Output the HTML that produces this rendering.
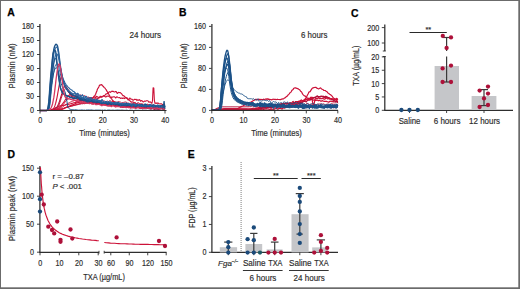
<!DOCTYPE html>
<html><head><meta charset="utf-8"><style>
html,body{margin:0;padding:0;background:#fff;}
body{width:520px;height:289px;overflow:hidden;}
svg{display:block;font-family:"Liberation Sans", sans-serif;}
</style></head><body>
<svg width="520" height="289" viewBox="0 0 520 289">
<rect x="0" y="0" width="520" height="289" fill="#fff"/>
<path d="M40.0,110.5 40.6,110.5 41.2,110.5 41.9,110.5 42.5,110.5 43.1,110.5 43.8,110.5 44.4,110.5 45.0,110.5 45.6,110.5 46.2,110.5 46.9,110.5 47.5,110.5 48.1,110.5 48.8,110.5 49.4,110.5 50.0,110.5 50.6,110.5 51.2,110.4 51.9,110.4 52.5,110.3 53.1,110.3 53.8,110.2 54.4,110.1 55.0,110.0 55.6,109.9 56.2,109.8 56.9,109.6 57.5,109.5 58.1,109.3 58.8,109.0 59.4,108.8 60.0,108.5 60.6,108.2 61.2,107.9 61.9,107.5 62.5,107.1 63.1,106.6 63.8,106.1 64.4,105.6 65.0,105.1 65.6,104.7 66.2,104.4 66.9,104.0 67.5,103.7 68.1,103.3 68.8,103.0 69.4,102.7 70.0,102.3 70.6,102.0 71.2,101.8 71.9,101.5 72.5,101.2 73.1,101.0 73.8,100.8 74.4,100.6 75.0,100.5 75.6,100.3 76.2,100.4 76.9,100.3 77.5,100.2 78.1,100.2 78.8,100.2 79.4,100.3 80.0,100.2 80.6,100.3 81.2,100.3 81.9,100.2 82.5,100.2 83.1,100.3 83.8,100.2 84.4,100.0 85.0,100.2 85.6,100.2 86.2,100.0 86.9,99.8 87.5,100.3 88.1,100.5 88.8,100.1 89.4,100.3 90.0,100.6 90.6,100.4 91.2,100.5 91.9,100.6 92.5,100.0 93.1,100.6 93.8,101.0 94.4,101.0 95.0,100.9 95.6,100.1 96.2,99.6 96.9,100.6 97.5,101.3 98.1,100.7 98.8,100.1 99.4,100.2 100.0,100.9 100.6,101.0 101.2,100.8 101.9,101.0 102.5,101.2 103.1,101.1 103.8,100.8 104.4,101.0 105.0,101.2 105.6,101.5 106.3,101.7 106.9,101.0 107.5,100.9 108.1,101.7 108.8,101.3 109.4,100.8 110.0,100.7 110.6,100.8 111.2,101.6 111.9,102.1 112.5,101.6 113.1,100.5 113.8,101.2 114.4,102.1 115.0,101.8 115.6,101.9 116.2,102.2 116.9,102.1 117.5,102.0 118.1,101.6 118.8,101.7 119.4,101.8 120.0,102.0 120.6,102.2 121.2,102.7 121.9,103.3 122.5,102.5 123.1,102.3 123.8,102.5 124.4,102.2 125.0,102.0 125.6,102.0 126.2,102.2 126.9,102.5 127.5,103.0 128.1,103.2 128.8,103.2 129.4,103.4 130.0,103.5 130.6,103.2 131.2,103.1 131.9,103.2 132.5,103.9 133.1,103.8 133.8,103.3 134.4,103.0 135.0,103.0 135.6,103.5 136.2,104.0 136.9,103.3 137.5,102.9 138.1,103.0 138.8,102.7 139.4,103.5 140.0,104.0 140.6,103.7 141.2,103.7 141.9,103.8 142.5,103.9 143.1,104.1 143.8,104.6 144.4,104.8 145.0,104.6 145.6,104.6 146.2,104.6 146.9,104.5 147.5,104.2 148.1,104.4 148.8,104.6 149.4,104.7 150.0,105.0 150.6,105.1 151.2,105.2 151.9,105.1 152.5,105.0 153.1,105.0 153.8,105.4 154.4,105.4 155.0,105.3 155.6,105.8 156.2,105.7 156.9,105.7 157.5,105.6 158.1,105.7 158.8,106.1 159.4,106.2 160.0,105.6 160.6,105.4 161.2,106.2 161.9,106.3 162.5,106.4 163.1,106.0 163.8,106.0 164.4,106.4 165.0,105.9" fill="none" stroke="#cc1238" stroke-width="1.0" stroke-linejoin="round" />
<path d="M40.0,110.5 40.6,110.5 41.2,110.5 41.9,110.5 42.5,110.5 43.1,110.5 43.8,110.5 44.4,110.5 45.0,110.5 45.6,110.5 46.2,110.5 46.9,110.5 47.5,110.5 48.1,110.5 48.8,110.5 49.4,110.5 50.0,110.5 50.6,110.5 51.2,110.4 51.9,110.4 52.5,110.4 53.1,110.3 53.8,110.3 54.4,110.2 55.0,110.2 55.6,110.1 56.2,110.0 56.9,109.9 57.5,109.8 58.1,109.7 58.8,109.6 59.4,109.5 60.0,109.4 60.6,109.2 61.2,109.1 61.9,108.9 62.5,108.7 63.1,108.5 63.8,108.3 64.4,108.1 65.0,107.9 65.6,107.6 66.2,107.5 66.9,107.3 67.5,107.2 68.1,107.0 68.8,106.9 69.4,106.7 70.0,106.6 70.6,106.4 71.2,106.2 71.9,106.1 72.5,105.9 73.1,105.8 73.8,105.5 74.4,105.3 75.0,105.3 75.6,105.1 76.2,104.9 76.9,104.7 77.5,104.7 78.1,104.5 78.8,104.4 79.4,104.3 80.0,104.1 80.6,104.1 81.2,103.9 81.9,103.6 82.5,103.8 83.1,103.7 83.8,103.5 84.4,103.7 85.0,103.7 85.6,103.3 86.2,103.0 86.9,103.0 87.5,103.1 88.1,103.0 88.8,103.0 89.4,102.8 90.0,102.8 90.6,102.9 91.2,102.8 91.9,103.2 92.5,103.5 93.1,102.8 93.8,102.6 94.4,103.0 95.0,103.0 95.6,103.1 96.2,103.1 96.9,103.2 97.5,103.2 98.1,103.5 98.8,103.2 99.4,102.9 100.0,103.7 100.6,103.7 101.2,103.3 101.9,103.3 102.5,103.5 103.1,103.4 103.8,102.1 104.4,102.6 105.0,103.5 105.6,103.3 106.3,103.4 106.9,103.8 107.5,104.2 108.1,103.6 108.8,103.3 109.4,103.0 110.0,103.2 110.6,103.6 111.2,102.7 111.9,103.0 112.5,104.1 113.1,103.9 113.8,103.7 114.4,103.5 115.0,103.4 115.6,103.9 116.2,103.9 116.9,103.0 117.5,102.7 118.1,104.3 118.8,104.7 119.4,104.2 120.0,104.1 120.6,103.9 121.2,103.6 121.9,103.3 122.5,103.6 123.1,103.9 123.8,104.2 124.4,104.2 125.0,103.8 125.6,103.8 126.2,104.3 126.9,104.2 127.5,104.1 128.1,104.5 128.8,104.8 129.4,105.0 130.0,105.0 130.6,105.6 131.2,105.2 131.9,104.3 132.5,104.7 133.1,104.6 133.8,104.5 134.4,104.7 135.0,105.6 135.6,105.8 136.2,105.0 136.9,104.5 137.5,104.2 138.1,104.3 138.8,105.2 139.4,106.3 140.0,105.8 140.6,105.3 141.2,105.2 141.9,105.3 142.5,105.6 143.1,106.0 143.8,106.0 144.4,105.7 145.0,105.8 145.6,105.6 146.2,105.8 146.9,105.9 147.5,105.9 148.1,105.8 148.8,105.7 149.4,106.1 150.0,106.5 150.6,105.9 151.2,105.8 151.9,106.1 152.5,106.0 153.1,106.5 153.8,106.8 154.4,106.7 155.0,106.5 155.6,106.4 156.2,106.8 156.9,107.2 157.5,106.9 158.1,106.4 158.8,107.1 159.4,107.4 160.0,107.0 160.6,107.0 161.2,107.1 161.9,107.1 162.5,106.6 163.1,106.6 163.8,107.0 164.4,107.0 165.0,107.4" fill="none" stroke="#ad1039" stroke-width="1.0" stroke-linejoin="round" />
<path d="M40.0,110.5 40.6,110.5 41.2,110.5 41.9,110.5 42.5,110.5 43.1,110.5 43.8,110.5 44.4,110.5 45.0,110.5 45.6,110.5 46.2,110.5 46.9,110.5 47.5,110.5 48.1,110.5 48.8,110.5 49.4,110.5 50.0,110.5 50.6,110.5 51.2,110.4 51.9,110.4 52.5,110.3 53.1,110.3 53.8,110.2 54.4,110.1 55.0,110.0 55.6,109.8 56.2,109.6 56.9,109.5 57.5,109.2 58.1,109.0 58.8,108.7 59.4,108.3 60.0,107.8 60.6,107.3 61.2,106.7 61.9,106.0 62.5,105.4 63.1,104.6 63.8,103.8 64.4,103.0 65.0,102.1 65.6,101.2 66.2,100.6 66.9,100.1 67.5,99.5 68.1,99.0 68.8,98.5 69.4,98.0 70.0,97.5 70.6,97.1 71.2,96.7 71.9,96.4 72.5,96.0 73.1,95.8 73.8,95.6 74.4,95.4 75.0,95.3 75.6,95.2 76.2,95.0 76.9,94.8 77.5,94.5 78.1,94.8 78.8,94.9 79.4,95.3 80.0,95.3 80.6,95.0 81.2,95.2 81.9,95.5 82.5,95.4 83.1,95.9 83.8,96.0 84.4,95.7 85.0,96.0 85.6,96.4 86.2,96.4 86.9,96.9 87.5,97.2 88.1,96.9 88.8,97.3 89.4,97.5 90.0,97.6 90.6,98.4 91.2,98.6 91.9,98.6 92.5,98.7 93.1,98.9 93.8,99.0 94.4,99.1 95.0,99.5 95.6,99.7 96.2,100.1 96.9,99.8 97.5,99.9 98.1,100.5 98.8,101.1 99.4,100.9 100.0,100.6 100.6,101.2 101.2,101.6 101.9,102.0 102.5,102.5 103.1,102.7 103.8,102.5 104.4,102.4 105.0,102.9 105.6,102.9 106.3,102.7 106.9,103.0 107.5,103.1 108.1,103.4 108.8,103.9 109.4,103.9 110.0,104.0 110.6,104.1 111.2,104.6 111.9,104.6 112.5,104.6 113.1,105.2 113.8,105.5 114.4,105.4 115.0,104.8 115.6,104.8 116.2,105.0 116.9,105.9 117.5,106.4 118.1,106.2 118.8,106.4 119.4,106.1 120.0,105.8 120.6,106.3 121.2,106.3 121.9,106.6 122.5,107.1 123.1,107.2 123.8,106.8 124.4,106.6 125.0,106.6 125.6,106.5 126.2,107.1 126.9,107.6 127.5,107.3 128.1,107.5 128.8,107.8 129.4,107.2 130.0,106.8 130.6,106.8 131.2,107.1 131.9,107.6 132.5,107.3 133.1,107.4 133.8,107.6 134.4,107.2 135.0,107.4 135.6,108.0 136.2,108.0 136.9,107.7 137.5,107.5 138.1,107.7 138.8,107.7 139.4,108.2 140.0,108.7 140.6,108.2 141.2,108.2 141.9,108.7 142.5,108.8 143.1,108.7 143.8,108.4 144.4,108.5 145.0,108.4 145.6,107.6 146.2,107.8 146.9,107.9 147.5,107.8 148.1,108.5 148.8,108.7 149.4,108.6 150.0,108.4 150.6,108.4 151.2,108.3 151.9,107.8 152.5,108.8 153.1,108.7 153.8,107.8 154.4,108.2 155.0,108.4 155.6,108.7 156.2,108.9 156.9,108.9 157.5,108.8 158.1,108.9 158.8,109.8 159.4,109.2 160.0,107.8 160.6,108.1 161.2,108.5 161.9,108.3 162.5,108.7 163.1,108.5 163.8,108.0 164.4,108.5 165.0,108.9" fill="none" stroke="#cc1238" stroke-width="1.0" stroke-linejoin="round" />
<path d="M40.0,110.5 40.6,110.5 41.2,110.5 41.9,110.5 42.5,110.5 43.1,110.5 43.8,110.5 44.4,110.5 45.0,110.5 45.6,110.5 46.2,110.5 46.9,110.5 47.5,110.5 48.1,110.5 48.8,110.5 49.4,110.5 50.0,110.5 50.6,110.5 51.2,110.5 51.9,110.4 52.5,110.4 53.1,110.3 53.8,110.2 54.4,110.1 55.0,109.9 55.6,109.6 56.2,109.2 56.9,108.7 57.5,107.9 58.1,106.9 58.8,105.7 59.4,104.1 60.0,102.3 60.6,100.3 61.2,98.2 61.9,96.1 62.5,94.1 63.1,92.4 63.8,91.0 64.4,90.0 65.0,89.2 65.6,88.6 66.2,89.1 66.9,89.7 67.5,90.5 68.1,91.3 68.8,92.3 69.4,93.2 70.0,94.2 70.6,95.2 71.2,96.2 71.9,97.1 72.5,97.9 73.1,98.8 73.8,99.4 74.4,99.9 75.0,100.5 75.6,100.9 76.2,101.4 76.9,101.7 77.5,101.8 78.1,102.2 78.8,102.6 79.4,102.6 80.0,102.7 80.6,102.8 81.2,102.9 81.9,103.0 82.5,102.9 83.1,103.1 83.8,103.2 84.4,103.2 85.0,103.3 85.6,103.5 86.2,103.2 86.9,103.1 87.5,103.3 88.1,103.1 88.8,102.9 89.4,103.5 90.0,103.2 90.6,102.6 91.2,102.9 91.9,103.6 92.5,103.5 93.1,103.5 93.8,103.6 94.4,103.1 95.0,102.9 95.6,103.3 96.2,103.3 96.9,103.4 97.5,103.3 98.1,103.1 98.8,103.5 99.4,103.7 100.0,103.0 100.6,102.9 101.2,103.7 101.9,103.3 102.5,103.2 103.1,104.2 103.8,104.0 104.4,104.0 105.0,104.4 105.6,104.1 106.3,104.0 106.9,104.3 107.5,104.5 108.1,104.5 108.8,104.1 109.4,104.1 110.0,104.7 110.6,103.9 111.2,104.0 111.9,104.2 112.5,103.7 113.1,104.2 113.8,105.0 114.4,104.9 115.0,104.4 115.6,104.3 116.2,104.5 116.9,104.5 117.5,104.2 118.1,104.8 118.8,104.9 119.4,104.6 120.0,105.2 120.6,105.4 121.2,104.8 121.9,104.4 122.5,105.5 123.1,105.8 123.8,105.4 124.4,105.5 125.0,105.7 125.6,106.1 126.2,105.8 126.9,105.7 127.5,106.1 128.1,106.0 128.8,106.2 129.4,105.9 130.0,105.6 130.6,106.1 131.2,106.5 131.9,106.5 132.5,106.0 133.1,105.9 133.8,106.1 134.4,106.3 135.0,106.5 135.6,106.4 136.2,106.9 136.9,106.6 137.5,106.3 138.1,107.0 138.8,106.5 139.4,106.3 140.0,106.7 140.6,107.0 141.2,107.5 141.9,107.3 142.5,106.6 143.1,106.9 143.8,106.9 144.4,107.1 145.0,107.7 145.6,107.3 146.2,107.1 146.9,107.1 147.5,107.4 148.1,107.9 148.8,108.3 149.4,108.4 150.0,108.2 150.6,108.3 151.2,108.0 151.9,107.8 152.5,108.5 153.1,107.7 153.8,107.4 154.4,108.5 155.0,107.9 155.6,107.3 156.2,108.0 156.9,108.8 157.5,108.8 158.1,108.1 158.8,108.0 159.4,108.5 160.0,108.5 160.6,108.0 161.2,108.4 161.9,108.9 162.5,108.9 163.1,108.3 163.8,107.4 164.4,107.8 165.0,108.4" fill="none" stroke="#cc1238" stroke-width="1.0" stroke-linejoin="round" />
<path d="M40.0,110.5 40.6,110.5 41.2,110.5 41.9,110.5 42.5,110.5 43.1,110.5 43.8,110.5 44.4,110.5 45.0,110.5 45.6,110.5 46.2,110.5 46.9,110.5 47.5,110.5 48.1,110.5 48.8,110.5 49.4,110.5 50.0,110.5 50.6,110.5 51.2,110.5 51.9,110.5 52.5,110.5 53.1,110.5 53.8,110.5 54.4,110.5 55.0,110.5 55.6,110.5 56.2,110.5 56.9,110.5 57.5,110.5 58.1,110.5 58.8,110.5 59.4,110.3 60.0,110.2 60.6,110.0 61.2,109.8 61.9,109.5 62.5,109.3 63.1,109.0 63.8,108.7 64.4,108.4 65.0,108.0 65.6,107.7 66.2,107.4 66.9,107.2 67.5,106.9 68.1,106.6 68.8,106.4 69.4,106.1 70.0,105.9 70.6,105.6 71.2,105.4 71.9,105.1 72.5,104.9 73.1,104.6 73.8,104.3 74.4,104.1 75.0,103.8 75.6,103.5 76.2,103.2 76.9,103.0 77.5,102.8 78.1,102.5 78.8,102.2 79.4,102.0 80.0,101.8 80.6,101.5 81.2,101.2 81.9,101.0 82.5,100.6 83.1,100.3 83.8,100.3 84.4,100.2 85.0,100.1 85.6,100.1 86.2,100.1 86.9,100.0 87.5,100.2 88.1,100.2 88.8,100.1 89.4,99.9 90.0,99.7 90.6,99.8 91.2,99.4 91.9,98.6 92.5,98.0 93.1,97.6 93.8,96.7 94.4,96.0 95.0,95.6 95.6,94.3 96.2,92.6 96.9,90.9 97.5,89.0 98.1,88.2 98.8,87.0 99.4,85.4 100.0,85.1 100.6,85.0 101.2,84.6 101.9,84.8 102.5,85.8 103.1,86.2 103.8,87.0 104.4,87.6 105.0,88.1 105.6,89.0 106.3,89.9 106.9,91.2 107.5,92.0 108.1,93.0 108.8,94.2 109.4,95.4 110.0,96.5 110.6,97.3 111.2,98.3 111.9,99.2 112.5,100.5 113.1,101.3 113.8,101.5 114.4,101.8 115.0,102.7 115.6,103.8 116.2,104.2 116.9,104.2 117.5,104.5 118.1,104.9 118.8,104.9 119.4,104.8 120.0,105.0 120.6,105.6 121.2,105.9 121.9,105.9 122.5,106.3 123.1,106.2 123.8,106.0 124.4,106.4 125.0,106.2 125.6,106.0 126.2,106.2 126.9,106.2 127.5,106.3 128.1,106.9 128.8,107.2 129.4,106.8 130.0,106.9 130.6,107.2 131.2,107.0 131.9,106.7 132.5,106.6 133.1,106.8 133.8,107.1 134.4,107.2 135.0,107.1 135.6,107.4 136.2,107.3 136.9,107.2 137.5,107.7 138.1,107.5 138.8,107.5 139.4,107.7 140.0,108.0 140.6,108.2 141.2,108.1 141.9,108.3 142.5,108.6 143.1,108.0 143.8,107.6 144.4,108.1 145.0,107.8 145.6,108.0 146.2,108.1 146.9,108.4 147.5,108.5 148.1,108.4 148.8,108.3 149.4,108.2 150.0,108.7 150.6,109.1 151.2,109.1 151.9,108.6 152.5,108.3 153.1,108.4 153.8,109.0 154.4,109.6 155.0,109.4 155.6,108.9 156.2,108.9 156.9,108.8 157.5,108.8 158.1,109.1 158.8,109.3 159.4,109.0 160.0,108.9 160.6,108.9 161.2,108.5 161.9,108.6 162.5,109.0 163.1,109.2 163.8,109.3 164.4,109.1 165.0,108.9" fill="none" stroke="#cc1238" stroke-width="1.2" stroke-linejoin="round" />
<path d="M40.0,110.5 40.6,110.5 41.2,110.5 41.9,110.5 42.5,110.5 43.1,110.5 43.8,110.5 44.4,110.5 45.0,110.5 45.6,110.5 46.2,110.5 46.9,110.5 47.5,110.5 48.1,110.5 48.8,110.5 49.4,110.5 50.0,110.5 50.6,110.5 51.2,110.5 51.9,110.5 52.5,110.5 53.1,110.5 53.8,110.4 54.4,110.4 55.0,110.3 55.6,110.2 56.2,110.2 56.9,110.1 57.5,110.0 58.1,109.8 58.8,109.7 59.4,109.6 60.0,109.4 60.6,109.3 61.2,109.1 61.9,108.9 62.5,108.7 63.1,108.5 63.8,108.3 64.4,108.1 65.0,107.8 65.6,107.5 66.2,107.4 66.9,107.2 67.5,107.0 68.1,106.9 68.8,106.7 69.4,106.5 70.0,106.4 70.6,106.2 71.2,106.0 71.9,105.8 72.5,105.7 73.1,105.5 73.8,105.3 74.4,105.2 75.0,105.1 75.6,104.8 76.2,104.7 76.9,104.6 77.5,104.3 78.1,104.1 78.8,103.9 79.4,103.7 80.0,103.4 80.6,103.3 81.2,102.9 81.9,102.9 82.5,103.1 83.1,102.8 83.8,102.8 84.4,102.5 85.0,102.0 85.6,102.0 86.2,102.2 86.9,101.8 87.5,101.3 88.1,100.9 88.8,100.6 89.4,100.8 90.0,100.9 90.6,100.7 91.2,100.4 91.9,100.6 92.5,100.4 93.1,99.8 93.8,99.6 94.4,99.5 95.0,98.7 95.6,98.0 96.2,98.0 96.9,98.2 97.5,98.7 98.1,98.4 98.8,97.8 99.4,97.6 100.0,97.5 100.6,96.9 101.2,96.4 101.9,96.7 102.5,96.6 103.1,96.2 103.8,95.7 104.4,95.4 105.0,95.2 105.6,94.2 106.3,93.8 106.9,93.9 107.5,93.6 108.1,92.9 108.8,92.2 109.4,91.8 110.0,91.8 110.6,92.3 111.2,91.7 111.9,91.1 112.5,91.4 113.1,91.3 113.8,91.8 114.4,92.0 115.0,91.7 115.6,91.4 116.2,91.6 116.9,93.1 117.5,93.4 118.1,92.6 118.8,92.4 119.4,92.6 120.0,92.6 120.6,92.8 121.2,93.5 121.9,94.1 122.5,95.3 123.1,95.8 123.8,95.6 124.4,96.5 125.0,97.0 125.6,97.2 126.2,97.9 126.9,98.5 127.5,98.9 128.1,99.3 128.8,99.7 129.4,100.0 130.0,100.9 130.6,101.5 131.2,101.8 131.9,102.2 132.5,101.9 133.1,102.0 133.8,102.5 134.4,102.8 135.0,102.5 135.6,103.1 136.2,103.5 136.9,103.8 137.5,104.4 138.1,104.1 138.8,104.4 139.4,104.5 140.0,104.2 140.6,104.7 141.2,105.1 141.9,105.0 142.5,105.6 143.1,105.7 143.8,105.4 144.4,105.0 145.0,105.1 145.6,105.1 146.2,105.1 146.9,105.0 147.5,104.8 148.1,105.3 148.8,105.3 149.4,105.2 150.0,105.0 150.6,104.8 151.2,105.4 151.9,106.4 152.5,107.1 153.1,106.9 153.8,105.9 154.4,105.7 155.0,105.9 155.6,106.2 156.2,106.4 156.9,106.5 157.5,106.2 158.1,106.7 158.8,106.6 159.4,106.5 160.0,106.8 160.6,106.6 161.2,106.7 161.9,106.9 162.5,107.1 163.1,106.9 163.8,106.9 164.4,106.1 165.0,105.9" fill="none" stroke="#cc1238" stroke-width="1.1" stroke-linejoin="round" />
<path d="M40.0,110.5 40.6,110.5 41.2,110.5 41.9,110.5 42.5,110.5 43.1,110.5 43.8,110.5 44.4,110.5 45.0,110.5 45.6,110.5 46.2,110.5 46.9,110.5 47.5,110.5 48.1,110.5 48.8,110.5 49.4,110.5 50.0,110.3 50.6,110.0 51.2,109.8 51.9,109.5 52.5,109.3 53.1,109.0 53.8,108.7 54.4,108.4 55.0,108.2 55.6,107.8 56.2,107.5 56.9,107.2 57.5,106.9 58.1,106.5 58.8,106.1 59.4,106.0 60.0,105.9 60.6,105.8 61.2,105.7 61.9,105.6 62.5,105.5 63.1,105.4 63.8,105.3 64.4,105.2 65.0,105.0 65.6,104.9 66.2,104.8 66.9,104.6 67.5,104.5 68.1,104.4 68.8,104.2 69.4,104.1 70.0,103.9 70.6,103.7 71.2,103.6 71.9,103.4 72.5,103.2 73.1,103.0 73.8,102.8 74.4,102.7 75.0,102.5 75.6,102.4 76.2,102.2 76.9,102.1 77.5,101.8 78.1,101.7 78.8,101.7 79.4,101.6 80.0,101.1 80.6,100.8 81.2,100.7 81.9,100.5 82.5,100.1 83.1,99.8 83.8,99.9 84.4,99.8 85.0,99.6 85.6,99.6 86.2,99.7 86.9,99.3 87.5,99.0 88.1,98.3 88.8,98.0 89.4,98.4 90.0,98.3 90.6,97.6 91.2,97.6 91.9,98.1 92.5,97.9 93.1,97.7 93.8,97.4 94.4,96.9 95.0,97.2 95.6,97.5 96.2,96.4 96.9,96.5 97.5,97.0 98.1,97.1 98.8,97.9 99.4,97.6 100.0,96.2 100.6,96.3 101.2,97.3 101.9,97.1 102.5,96.4 103.1,96.1 103.8,95.8 104.4,96.3 105.0,96.5 105.6,97.0 106.3,96.8 106.9,96.1 107.5,96.2 108.1,95.9 108.8,96.4 109.4,96.8 110.0,97.1 110.6,97.8 111.2,97.5 111.9,96.8 112.5,97.2 113.1,97.0 113.8,96.7 114.4,96.8 115.0,97.2 115.6,98.0 116.2,97.5 116.9,96.7 117.5,97.1 118.1,97.5 118.8,97.7 119.4,97.6 120.0,97.8 120.6,98.5 121.2,98.1 121.9,98.0 122.5,98.5 123.1,98.1 123.8,98.0 124.4,98.6 125.0,98.3 125.6,97.6 126.2,97.8 126.9,97.7 127.5,98.4 128.1,100.0 128.8,99.7 129.4,98.2 130.0,98.0 130.6,98.8 131.2,99.3 131.9,99.1 132.5,99.8 133.1,100.2 133.8,99.9 134.4,99.2 135.0,99.4 135.6,99.5 136.2,99.3 136.9,100.6 137.5,99.9 138.1,99.8 138.8,100.4 139.4,99.6 140.0,100.1 140.6,101.2 141.2,100.8 141.9,100.5 142.5,101.4 143.1,101.9 143.8,101.7 144.4,101.1 145.0,101.1 145.6,101.3 146.2,100.8 146.9,100.7 147.5,100.8 148.1,101.0 148.8,102.1 149.4,102.2 150.0,101.7 150.6,102.2 151.2,102.8 151.9,103.3 152.5,100.7 153.1,87.9 153.8,88.1 154.4,100.7 155.0,103.4 155.6,103.1 156.2,103.1 156.9,103.5 157.5,103.0 158.1,103.1 158.8,103.5 159.4,103.8 160.0,104.0 160.6,103.7 161.2,103.8 161.9,104.1 162.5,104.6 163.1,104.7 163.8,104.5 164.4,104.2 165.0,103.8" fill="none" stroke="#cc1238" stroke-width="1.1" stroke-linejoin="round" />
<path d="M40.0,110.5 40.6,110.5 41.2,110.5 41.9,110.5 42.5,110.5 43.1,110.5 43.8,110.5 44.4,110.5 45.0,110.5 45.6,110.5 46.2,110.5 46.9,110.5 47.5,110.5 48.1,110.5 48.8,110.5 49.4,110.4 50.0,110.4 50.6,110.3 51.2,110.1 51.9,109.9 52.5,109.5 53.1,108.9 53.8,108.1 54.4,107.0 55.0,105.4 55.6,103.5 56.2,101.0 56.9,98.1 57.5,94.8 58.1,91.3 58.8,87.6 59.4,84.1 60.0,81.0 60.6,78.6 61.2,77.0 61.9,76.4 62.5,78.6 63.1,80.5 63.8,82.3 64.4,83.9 65.0,85.4 65.6,86.7 66.2,88.0 66.9,89.1 67.5,90.2 68.1,91.2 68.8,92.1 69.4,92.9 70.0,93.6 70.6,94.3 71.2,95.0 71.9,95.6 72.5,96.1 73.1,96.6 73.8,97.1 74.4,97.6 75.0,98.0 75.6,98.3 76.2,98.6 76.9,98.9 77.5,99.4 78.1,99.6 78.8,99.8 79.4,100.1 80.0,100.5 80.6,100.7 81.2,100.8 81.9,101.0 82.5,100.8 83.1,101.0 83.8,101.6 84.4,102.1 85.0,102.2 85.6,102.1 86.2,102.0 86.9,102.2 87.5,102.4 88.1,102.4 88.8,102.4 89.4,102.3 90.0,102.6 90.6,103.0 91.2,103.6 91.9,104.1 92.5,103.9 93.1,104.0 93.8,103.8 94.4,103.3 95.0,103.6 95.6,104.1 96.2,104.2 96.9,104.1 97.5,104.2 98.1,104.2 98.8,104.1 99.4,104.2 100.0,104.1 100.6,104.3 101.2,104.5 101.9,104.1 102.5,104.2 103.1,104.6 103.8,104.6 104.4,105.1 105.0,105.3 105.6,105.5 106.3,105.4 106.9,105.4 107.5,105.6 108.1,105.1 108.8,105.1 109.4,105.2 110.0,105.1 110.6,105.2 111.2,105.6 111.9,105.8 112.5,104.9 113.1,104.8 113.8,105.3 114.4,105.5 115.0,105.6 115.6,106.1 116.2,106.7 116.9,106.2 117.5,105.8 118.1,106.1 118.8,106.4 119.4,106.5 120.0,106.5 120.6,106.8 121.2,107.2 121.9,107.0 122.5,107.1 123.1,107.4 123.8,107.1 124.4,107.2 125.0,107.0 125.6,106.8 126.2,106.9 126.9,107.2 127.5,107.4 128.1,107.0 128.8,106.7 129.4,107.0 130.0,107.1 130.6,106.9 131.2,107.0 131.9,106.6 132.5,106.8 133.1,107.2 133.8,107.0 134.4,107.2 135.0,107.7 135.6,107.5 136.2,107.1 136.9,107.3 137.5,107.4 138.1,107.5 138.8,107.8 139.4,107.7 140.0,108.0 140.6,108.1 141.2,108.1 141.9,108.2 142.5,107.6 143.1,107.6 143.8,108.0 144.4,107.7 145.0,107.7 145.6,108.0 146.2,108.1 146.9,107.5 147.5,107.2 148.1,107.6 148.8,108.1 149.4,108.1 150.0,108.2 150.6,108.3 151.2,108.2 151.9,107.8 152.5,108.0 153.1,108.2 153.8,107.5 154.4,108.4 155.0,108.8 155.6,107.8 156.2,107.4 156.9,108.4 157.5,108.9 158.1,108.8 158.8,108.9 159.4,108.8 160.0,108.0 160.6,107.7 161.2,108.4 161.9,108.5 162.5,108.3 163.1,108.0 163.8,108.5 164.4,108.3 165.0,108.3" fill="none" stroke="#cc1238" stroke-width="1.1" stroke-linejoin="round" />
<path d="M40.0,110.5 40.6,110.5 41.2,110.5 41.9,110.5 42.5,110.5 43.1,110.5 43.8,110.5 44.4,110.5 45.0,110.5 45.6,110.5 46.2,110.5 46.9,110.5 47.5,110.5 48.1,110.5 48.8,110.5 49.4,110.5 50.0,110.5 50.6,110.4 51.2,110.4 51.9,110.3 52.5,110.2 53.1,110.1 53.8,109.8 54.4,109.5 55.0,109.2 55.6,108.6 56.2,107.9 56.9,107.1 57.5,106.0 58.1,104.8 58.8,103.3 59.4,101.6 60.0,99.7 60.6,97.7 61.2,95.6 61.9,93.5 62.5,91.4 63.1,89.6 63.8,88.0 64.4,86.8 65.0,86.1 65.6,85.8 66.2,86.9 66.9,87.9 67.5,88.8 68.1,89.7 68.8,90.5 69.4,91.3 70.0,91.9 70.6,92.6 71.2,93.3 71.9,93.9 72.5,94.4 73.1,95.0 73.8,95.4 74.4,95.9 75.0,96.5 75.6,96.8 76.2,97.1 76.9,97.5 77.5,97.8 78.1,98.3 78.8,98.7 79.4,98.7 80.0,98.9 80.6,99.4 81.2,99.7 81.9,100.0 82.5,100.0 83.1,100.2 83.8,100.4 84.4,100.6 85.0,100.9 85.6,100.9 86.2,100.9 86.9,101.1 87.5,101.0 88.1,101.0 88.8,101.5 89.4,101.8 90.0,101.7 90.6,102.0 91.2,102.7 91.9,102.8 92.5,102.4 93.1,102.5 93.8,102.5 94.4,102.2 95.0,103.1 95.6,103.3 96.2,102.4 96.9,102.7 97.5,103.7 98.1,103.4 98.8,102.7 99.4,102.6 100.0,103.2 100.6,103.5 101.2,103.4 101.9,103.2 102.5,102.7 103.1,103.2 103.8,103.5 104.4,103.6 105.0,103.9 105.6,104.2 106.3,104.6 106.9,104.3 107.5,104.4 108.1,104.3 108.8,104.3 109.4,104.6 110.0,104.5 110.6,104.7 111.2,104.7 111.9,104.3 112.5,103.4 113.1,104.2 113.8,105.1 114.4,104.8 115.0,105.3 115.6,105.2 116.2,105.2 116.9,105.4 117.5,104.8 118.1,105.4 118.8,105.8 119.4,105.1 120.0,105.5 120.6,105.5 121.2,105.2 121.9,105.5 122.5,105.3 123.1,105.6 123.8,105.8 124.4,105.5 125.0,106.1 125.6,106.1 126.2,106.0 126.9,105.7 127.5,106.1 128.1,106.4 128.8,106.2 129.4,105.7 130.0,105.9 130.6,106.1 131.2,106.3 131.9,106.6 132.5,106.1 133.1,106.2 133.8,106.4 134.4,107.1 135.0,107.4 135.6,106.5 136.2,106.0 136.9,106.7 137.5,106.5 138.1,106.5 138.8,107.0 139.4,107.2 140.0,106.6 140.6,105.7 141.2,106.4 141.9,106.9 142.5,106.4 143.1,105.9 143.8,106.9 144.4,107.5 145.0,106.7 145.6,107.2 146.2,107.3 146.9,106.8 147.5,106.7 148.1,107.0 148.8,107.1 149.4,107.2 150.0,107.1 150.6,106.9 151.2,107.2 151.9,107.8 152.5,107.2 153.1,106.4 153.8,106.7 154.4,107.2 155.0,107.6 155.6,107.0 156.2,106.7 156.9,107.4 157.5,107.7 158.1,107.4 158.8,107.5 159.4,107.9 160.0,107.4 160.6,107.0 161.2,107.5 161.9,108.1 162.5,108.3 163.1,107.8 163.8,107.4 164.4,107.5 165.0,107.5" fill="none" stroke="#ad1039" stroke-width="1.1" stroke-linejoin="round" />
<path d="M40.0,110.5 40.6,110.5 41.2,110.5 41.9,110.5 42.5,110.5 43.1,110.5 43.8,110.5 44.4,110.5 45.0,110.5 45.6,110.5 46.2,110.5 46.9,110.5 47.5,110.5 48.1,110.5 48.8,110.5 49.4,110.4 50.0,110.4 50.6,110.4 51.2,110.3 51.9,110.3 52.5,110.2 53.1,110.1 53.8,110.0 54.4,109.9 55.0,109.7 55.6,109.5 56.2,109.3 56.9,109.0 57.5,108.7 58.1,108.3 58.8,107.8 59.4,107.3 60.0,106.7 60.6,106.1 61.2,105.4 61.9,104.7 62.5,103.9 63.1,103.0 63.8,102.1 64.4,101.2 65.0,100.3 65.6,99.4 66.2,98.6 66.9,97.7 67.5,96.9 68.1,96.1 68.8,95.5 69.4,95.0 70.0,94.6 70.6,94.3 71.2,94.2 71.9,94.6 72.5,95.0 73.1,95.3 73.8,95.7 74.4,96.0 75.0,96.3 75.6,96.5 76.2,96.8 76.9,97.1 77.5,97.4 78.1,97.8 78.8,98.1 79.4,98.3 80.0,98.5 80.6,98.9 81.2,99.1 81.9,99.3 82.5,99.4 83.1,99.5 83.8,99.9 84.4,100.3 85.0,100.2 85.6,100.2 86.2,100.4 86.9,100.1 87.5,100.0 88.1,100.7 88.8,100.9 89.4,100.7 90.0,100.9 90.6,101.8 91.2,101.9 91.9,101.6 92.5,101.2 93.1,101.8 93.8,102.1 94.4,101.7 95.0,102.0 95.6,102.1 96.2,102.4 96.9,102.1 97.5,102.2 98.1,102.3 98.8,102.4 99.4,102.9 100.0,103.1 100.6,103.2 101.2,103.2 101.9,102.7 102.5,103.1 103.1,104.1 103.8,103.8 104.4,102.9 105.0,102.6 105.6,102.8 106.3,102.8 106.9,103.5 107.5,103.9 108.1,104.6 108.8,104.8 109.4,103.9 110.0,104.3 110.6,105.1 111.2,105.1 111.9,104.5 112.5,103.8 113.1,103.1 113.8,103.1 114.4,104.4 115.0,105.6 115.6,105.1 116.2,104.1 116.9,104.7 117.5,105.3 118.1,105.0 118.8,104.8 119.4,104.8 120.0,104.7 120.6,104.4 121.2,104.6 121.9,104.7 122.5,104.2 123.1,104.7 123.8,105.7 124.4,105.3 125.0,104.5 125.6,104.6 126.2,104.9 126.9,105.1 127.5,105.2 128.1,105.3 128.8,105.4 129.4,105.1 130.0,105.3 130.6,105.0 131.2,104.8 131.9,105.5 132.5,105.6 133.1,105.9 133.8,105.9 134.4,104.6 135.0,104.8 135.6,105.5 136.2,105.7 136.9,105.6 137.5,105.8 138.1,105.9 138.8,105.9 139.4,106.3 140.0,106.2 140.6,106.1 141.2,106.7 141.9,106.1 142.5,105.5 143.1,106.7 143.8,106.5 144.4,106.0 145.0,106.3 145.6,106.1 146.2,106.5 146.9,107.6 147.5,107.4 148.1,106.4 148.8,106.1 149.4,106.5 150.0,106.9 150.6,106.6 151.2,106.6 151.9,106.8 152.5,106.7 153.1,106.9 153.8,106.6 154.4,106.6 155.0,107.1 155.6,106.9 156.2,107.2 156.9,106.9 157.5,106.4 158.1,106.2 158.8,106.3 159.4,106.9 160.0,106.9 160.6,107.2 161.2,107.5 161.9,106.9 162.5,106.8 163.1,107.3 163.8,108.0 164.4,107.1 165.0,106.9" fill="none" stroke="#cc1238" stroke-width="1.1" stroke-linejoin="round" />
<path d="M40.0,110.5 40.6,110.5 41.2,110.5 41.9,110.5 42.5,110.5 43.1,110.5 43.8,110.5 44.4,110.5 45.0,110.5 45.6,110.5 46.2,110.5 46.9,110.5 47.5,110.1 48.1,108.2 48.8,104.2 49.4,97.7 50.0,89.9 50.6,82.2 51.2,75.4 51.9,68.1 52.5,60.6 53.1,54.1 53.8,49.5 54.4,47.0 55.0,45.4 55.6,44.6 56.2,44.2 56.9,44.7 57.5,46.0 58.1,48.9 58.8,53.2 59.4,58.2 60.0,63.0 60.6,67.5 61.2,71.2 61.9,74.6 62.5,77.7 63.1,80.3 63.8,82.5 64.4,84.3 65.0,85.9 65.6,87.2 66.2,88.5 66.9,89.5 67.5,90.4 68.1,91.2 68.8,91.9 69.4,92.6 70.0,93.2 70.6,93.8 71.2,94.5 71.9,94.7 72.5,95.0 73.1,95.5 73.8,95.4 74.4,95.5 75.0,95.1 75.6,95.8 76.2,97.4 76.9,97.0 77.5,96.3 78.1,96.7 78.8,98.2 79.4,97.7 80.0,97.7 80.6,98.5 81.2,97.9 81.9,98.3 82.5,99.1 83.1,98.8 83.8,98.8 84.4,99.1 85.0,99.6 85.6,100.0 86.2,100.2 86.9,101.0 87.5,99.8 88.1,99.0 88.8,99.5 89.4,100.3 90.0,100.9 90.6,100.7 91.2,101.4 91.9,101.2 92.5,101.0 93.1,101.5 93.8,102.0 94.4,101.5 95.0,100.6 95.6,101.0 96.2,101.8 96.9,102.4 97.5,101.5 98.1,101.5 98.8,102.0 99.4,101.9 100.0,102.7 100.6,102.1 101.2,102.6 101.9,103.3 102.5,102.5 103.1,103.4 103.8,103.3 104.4,102.4 105.0,102.7 105.6,103.4 106.3,103.3 106.9,102.4 107.5,102.6 108.1,102.4 108.8,102.2 109.4,102.7 110.0,102.6 110.6,103.3 111.2,104.3 111.9,103.8 112.5,103.4 113.1,103.0 113.8,102.8 114.4,103.5 115.0,104.0 115.6,104.2 116.2,104.6 116.9,104.7 117.5,104.2 118.1,104.2 118.8,104.9 119.4,104.6 120.0,104.7 120.6,104.9 121.2,105.8 121.9,105.5 122.5,104.7 123.1,104.8 123.8,104.5 124.4,105.5 125.0,104.6 125.6,103.7 126.2,104.8 126.9,105.7 127.5,105.5 128.1,104.5 128.8,105.0 129.4,105.1 130.0,104.3 130.6,104.6 131.2,105.7 131.9,104.9 132.5,104.4 133.1,105.2 133.8,104.2 134.4,104.1 135.0,105.3 135.6,105.3 136.2,105.4 136.9,105.5 137.5,105.3 138.1,105.7 138.8,106.0 139.4,105.6 140.0,105.3 140.6,105.2 141.2,105.1 141.9,105.3 142.5,105.4 143.1,105.8 143.8,106.2 144.4,105.6 145.0,106.4 145.6,106.8 146.2,104.4 146.9,105.5 147.5,106.3 148.1,106.3 148.8,106.8 149.4,105.3 150.0,104.8 150.6,106.0 151.2,107.3 151.9,107.6 152.5,106.7 153.1,106.2 153.8,106.6 154.4,106.3 155.0,106.1 155.6,106.0 156.2,106.2 156.9,107.2 157.5,106.6 158.1,107.2 158.8,107.3 159.4,106.3 160.0,107.0 160.6,107.0 161.2,107.1 161.9,106.9 162.5,106.8 163.1,107.3 163.8,106.8 164.4,106.6 165.0,106.4" fill="none" stroke="#1c5288" stroke-width="1.4" stroke-linejoin="round" />
<path d="M40.0,110.5 40.6,110.5 41.2,110.5 41.9,110.5 42.5,110.5 43.1,110.5 43.8,110.5 44.4,110.5 45.0,110.5 45.6,110.5 46.2,110.5 46.9,110.5 47.5,110.5 48.1,109.6 48.8,107.7 49.4,103.7 50.0,97.0 50.6,89.1 51.2,81.2 51.9,74.5 52.5,67.3 53.1,60.2 53.8,54.3 54.4,50.8 55.0,49.0 55.6,47.8 56.2,47.3 56.9,47.0 57.5,48.6 58.1,51.4 58.8,55.6 59.4,60.1 60.0,64.4 60.6,68.7 61.2,72.5 61.9,75.5 62.5,78.1 63.1,80.4 63.8,82.4 64.4,84.1 65.0,85.5 65.6,86.7 66.2,87.8 66.9,88.7 67.5,89.6 68.1,90.3 68.8,90.9 69.4,91.5 70.0,91.9 70.6,92.1 71.2,92.7 71.9,93.1 72.5,93.3 73.1,93.8 73.8,93.7 74.4,92.8 75.0,93.1 75.6,94.0 76.2,94.5 76.9,95.4 77.5,94.7 78.1,95.0 78.8,96.1 79.4,96.2 80.0,96.4 80.6,96.6 81.2,96.8 81.9,97.6 82.5,98.1 83.1,97.1 83.8,97.7 84.4,98.8 85.0,97.9 85.6,97.6 86.2,97.9 86.9,99.3 87.5,99.9 88.1,99.6 88.8,100.5 89.4,99.9 90.0,98.8 90.6,99.9 91.2,101.1 91.9,100.8 92.5,100.5 93.1,101.0 93.8,100.0 94.4,99.3 95.0,100.6 95.6,101.3 96.2,100.1 96.9,99.0 97.5,100.4 98.1,101.4 98.8,100.7 99.4,101.5 100.0,102.5 100.6,101.4 101.2,101.6 101.9,102.5 102.5,102.9 103.1,103.2 103.8,102.3 104.4,102.4 105.0,103.4 105.6,103.4 106.3,102.1 106.9,101.8 107.5,103.0 108.1,103.1 108.8,102.7 109.4,102.8 110.0,103.9 110.6,103.9 111.2,103.2 111.9,103.0 112.5,103.7 113.1,103.6 113.8,103.3 114.4,104.7 115.0,103.9 115.6,103.4 116.2,103.9 116.9,103.8 117.5,103.6 118.1,103.0 118.8,103.1 119.4,103.3 120.0,104.7 120.6,105.9 121.2,105.1 121.9,104.8 122.5,104.7 123.1,104.3 123.8,105.2 124.4,105.8 125.0,105.7 125.6,105.7 126.2,105.3 126.9,104.7 127.5,104.0 128.1,104.8 128.8,105.7 129.4,104.6 130.0,104.0 130.6,104.6 131.2,106.2 131.9,106.8 132.5,105.7 133.1,105.5 133.8,104.7 134.4,104.4 135.0,105.3 135.6,105.9 136.2,106.5 136.9,106.4 137.5,106.2 138.1,106.0 138.8,105.6 139.4,105.4 140.0,105.2 140.6,106.0 141.2,106.4 141.9,105.6 142.5,105.0 143.1,105.3 143.8,105.9 144.4,106.2 145.0,106.2 145.6,105.7 146.2,106.2 146.9,106.6 147.5,106.4 148.1,105.9 148.8,106.5 149.4,106.4 150.0,106.0 150.6,105.6 151.2,104.8 151.9,105.9 152.5,106.9 153.1,105.6 153.8,105.0 154.4,105.9 155.0,106.4 155.6,106.8 156.2,106.2 156.9,105.9 157.5,106.7 158.1,106.4 158.8,105.9 159.4,106.9 160.0,106.6 160.6,106.3 161.2,106.4 161.9,106.6 162.5,106.8 163.1,107.3 163.8,107.3 164.4,107.3 165.0,107.4" fill="none" stroke="#2a65a0" stroke-width="1.1" stroke-linejoin="round" />
<path d="M40.0,110.5 40.6,110.5 41.2,110.5 41.9,110.5 42.5,110.5 43.1,110.5 43.8,110.5 44.4,110.5 45.0,110.5 45.6,110.5 46.2,110.5 46.9,110.5 47.5,109.3 48.1,106.8 48.8,101.9 49.4,94.1 50.0,85.4 50.6,77.8 51.2,71.0 51.9,64.1 52.5,57.9 53.1,53.4 53.8,51.3 54.4,50.0 55.0,50.0 55.6,51.2 56.2,55.4 56.9,61.5 57.5,67.2 58.1,73.0 58.8,77.8 59.4,82.2 60.0,85.8 60.6,88.3 61.2,90.2 61.9,91.8 62.5,92.8 63.1,93.4 63.8,94.0 64.4,94.4 65.0,94.8 65.6,95.1 66.2,95.4 66.9,95.7 67.5,96.0 68.1,96.3 68.8,96.5 69.4,96.7 70.0,97.1 70.6,97.2 71.2,97.5 71.9,97.8 72.5,97.9 73.1,98.4 73.8,98.5 74.4,98.3 75.0,98.2 75.6,98.2 76.2,98.3 76.9,97.9 77.5,97.3 78.1,97.7 78.8,98.3 79.4,98.9 80.0,99.9 80.6,99.5 81.2,99.1 81.9,99.1 82.5,100.1 83.1,99.4 83.8,99.3 84.4,100.7 85.0,99.7 85.6,100.5 86.2,101.4 86.9,101.8 87.5,102.4 88.1,102.4 88.8,101.8 89.4,100.9 90.0,101.2 90.6,100.8 91.2,100.1 91.9,100.8 92.5,101.7 93.1,101.9 93.8,102.1 94.4,101.4 95.0,101.2 95.6,102.1 96.2,102.4 96.9,102.0 97.5,102.2 98.1,102.4 98.8,102.3 99.4,101.9 100.0,101.4 100.6,102.8 101.2,103.5 101.9,102.6 102.5,102.8 103.1,102.8 103.8,102.5 104.4,102.7 105.0,102.9 105.6,103.1 106.3,102.9 106.9,103.8 107.5,104.5 108.1,104.4 108.8,103.2 109.4,102.6 110.0,103.3 110.6,103.4 111.2,103.8 111.9,104.3 112.5,103.7 113.1,103.6 113.8,103.3 114.4,103.1 115.0,103.8 115.6,104.0 116.2,104.1 116.9,104.1 117.5,103.4 118.1,102.3 118.8,103.6 119.4,104.6 120.0,103.8 120.6,104.3 121.2,105.0 121.9,104.8 122.5,105.7 123.1,105.2 123.8,104.1 124.4,104.5 125.0,104.5 125.6,104.3 126.2,103.3 126.9,103.4 127.5,104.1 128.1,104.5 128.8,104.7 129.4,104.7 130.0,104.9 130.6,105.2 131.2,105.6 131.9,105.0 132.5,104.3 133.1,104.3 133.8,105.0 134.4,105.1 135.0,106.0 135.6,105.7 136.2,104.6 136.9,104.9 137.5,104.4 138.1,104.8 138.8,104.9 139.4,104.9 140.0,105.1 140.6,105.2 141.2,105.3 141.9,104.5 142.5,104.9 143.1,105.9 143.8,105.8 144.4,105.4 145.0,104.0 145.6,104.4 146.2,106.7 146.9,106.8 147.5,106.6 148.1,106.6 148.8,105.8 149.4,106.1 150.0,106.4 150.6,106.9 151.2,106.5 151.9,106.0 152.5,105.6 153.1,104.8 153.8,105.7 154.4,106.4 155.0,106.0 155.6,105.5 156.2,106.3 156.9,106.8 157.5,105.1 158.1,105.2 158.8,106.0 159.4,105.9 160.0,106.6 160.6,106.2 161.2,105.5 161.9,105.9 162.5,105.7 163.1,105.5 163.8,106.7 164.4,106.9 165.0,106.3" fill="none" stroke="#1c5288" stroke-width="1.4" stroke-linejoin="round" />
<path d="M40.0,110.5 40.6,110.5 41.2,110.5 41.9,110.5 42.5,110.5 43.1,110.5 43.8,110.5 44.4,110.5 45.0,110.5 45.6,110.5 46.2,110.5 46.9,110.5 47.5,110.5 48.1,110.3 48.8,108.7 49.4,106.2 50.0,100.8 50.6,93.6 51.2,86.1 51.9,79.7 52.5,74.2 53.1,68.8 53.8,63.7 54.4,59.6 55.0,56.8 55.6,55.0 56.2,53.8 56.9,53.7 57.5,54.8 58.1,56.4 58.8,58.9 59.4,62.3 60.0,65.7 60.6,68.8 61.2,71.8 61.9,74.7 62.5,76.9 63.1,78.7 63.8,80.2 64.4,81.6 65.0,82.8 65.6,83.9 66.2,84.8 66.9,85.6 67.5,86.4 68.1,87.1 68.8,87.7 69.4,88.4 70.0,89.1 70.6,89.3 71.2,89.7 71.9,90.1 72.5,90.9 73.1,91.4 73.8,91.5 74.4,91.9 75.0,92.6 75.6,93.5 76.2,93.8 76.9,93.5 77.5,93.2 78.1,93.5 78.8,94.7 79.4,95.3 80.0,95.2 80.6,95.3 81.2,96.2 81.9,95.6 82.5,94.7 83.1,95.9 83.8,97.4 84.4,96.9 85.0,97.0 85.6,96.4 86.2,96.3 86.9,97.4 87.5,98.1 88.1,98.8 88.8,97.8 89.4,97.8 90.0,98.7 90.6,98.0 91.2,97.5 91.9,99.0 92.5,99.8 93.1,99.9 93.8,99.2 94.4,99.6 95.0,100.3 95.6,100.5 96.2,100.1 96.9,99.9 97.5,100.2 98.1,100.0 98.8,100.8 99.4,100.9 100.0,100.3 100.6,101.3 101.2,101.5 101.9,99.4 102.5,100.0 103.1,101.4 103.8,102.0 104.4,102.2 105.0,101.9 105.6,101.9 106.3,101.7 106.9,102.7 107.5,102.2 108.1,101.9 108.8,102.9 109.4,102.9 110.0,102.9 110.6,102.9 111.2,102.5 111.9,102.9 112.5,102.7 113.1,103.2 113.8,103.1 114.4,103.5 115.0,103.3 115.6,102.3 116.2,103.3 116.9,103.8 117.5,103.4 118.1,103.2 118.8,103.6 119.4,103.1 120.0,103.3 120.6,104.0 121.2,103.6 121.9,103.1 122.5,103.4 123.1,103.9 123.8,103.8 124.4,103.6 125.0,103.0 125.6,103.8 126.2,104.7 126.9,104.3 127.5,104.0 128.1,103.3 128.8,103.7 129.4,104.3 130.0,103.8 130.6,104.6 131.2,105.5 131.9,105.2 132.5,104.9 133.1,104.6 133.8,104.9 134.4,104.2 135.0,104.4 135.6,105.3 136.2,104.5 136.9,104.1 137.5,104.7 138.1,104.9 138.8,104.6 139.4,104.8 140.0,104.9 140.6,105.4 141.2,105.7 141.9,106.1 142.5,106.6 143.1,106.4 143.8,105.4 144.4,105.2 145.0,105.7 145.6,105.9 146.2,106.2 146.9,105.9 147.5,106.3 148.1,105.8 148.8,106.2 149.4,106.3 150.0,104.3 150.6,105.1 151.2,106.3 151.9,106.7 152.5,106.8 153.1,106.9 153.8,106.7 154.4,106.1 155.0,107.3 155.6,107.7 156.2,107.6 156.9,107.2 157.5,106.1 158.1,106.2 158.8,107.2 159.4,107.4 160.0,106.8 160.6,107.6 161.2,107.4 161.9,106.1 162.5,107.6 163.1,107.2 163.8,106.9 164.4,107.6 165.0,106.3" fill="none" stroke="#2a65a0" stroke-width="1.1" stroke-linejoin="round" />
<path d="M40.0,110.5 40.6,110.5 41.2,110.5 41.9,110.5 42.5,110.5 43.1,110.5 43.8,110.5 44.4,110.5 45.0,110.5 45.6,110.5 46.2,110.5 46.9,110.5 47.5,110.5 48.1,109.4 48.8,107.2 49.4,103.0 50.0,96.3 50.6,88.7 51.2,81.6 51.9,76.2 52.5,71.1 53.1,66.3 53.8,62.4 54.4,60.1 55.0,58.8 55.6,58.2 56.2,60.1 56.9,64.1 57.5,68.3 58.1,73.2 58.8,77.8 59.4,81.8 60.0,85.4 60.6,88.1 61.2,90.0 61.9,91.6 62.5,92.9 63.1,93.7 63.8,94.3 64.4,94.7 65.0,95.1 65.6,95.5 66.2,95.8 66.9,96.1 67.5,96.3 68.1,96.5 68.8,96.7 69.4,97.0 70.0,97.3 70.6,97.8 71.2,97.3 71.9,96.9 72.5,97.3 73.1,97.7 73.8,97.7 74.4,97.5 75.0,97.9 75.6,98.8 76.2,98.9 76.9,98.7 77.5,98.4 78.1,98.9 78.8,98.8 79.4,99.3 80.0,99.8 80.6,99.8 81.2,100.4 81.9,99.7 82.5,99.5 83.1,100.7 83.8,100.6 84.4,100.7 85.0,100.6 85.6,99.8 86.2,99.7 86.9,100.7 87.5,101.4 88.1,100.1 88.8,100.2 89.4,100.6 90.0,99.9 90.6,101.2 91.2,101.5 91.9,100.5 92.5,100.8 93.1,100.4 93.8,100.7 94.4,101.5 95.0,101.5 95.6,101.8 96.2,102.0 96.9,102.8 97.5,102.3 98.1,101.7 98.8,102.3 99.4,102.0 100.0,102.3 100.6,102.5 101.2,102.6 101.9,103.5 102.5,103.8 103.1,102.6 103.8,102.9 104.4,104.0 105.0,102.6 105.6,101.6 106.3,101.9 106.9,102.6 107.5,103.2 108.1,102.9 108.8,102.9 109.4,103.3 110.0,104.4 110.6,104.7 111.2,104.8 111.9,103.8 112.5,103.3 113.1,104.2 113.8,104.0 114.4,103.9 115.0,103.9 115.6,104.2 116.2,105.2 116.9,104.2 117.5,103.8 118.1,105.0 118.8,105.0 119.4,105.1 120.0,104.8 120.6,104.2 121.2,104.8 121.9,105.1 122.5,104.9 123.1,104.5 123.8,104.9 124.4,105.4 125.0,104.5 125.6,105.3 126.2,105.6 126.9,105.0 127.5,105.4 128.1,105.7 128.8,104.9 129.4,104.7 130.0,105.4 130.6,105.7 131.2,105.3 131.9,104.6 132.5,104.5 133.1,104.8 133.8,104.5 134.4,105.6 135.0,107.1 135.6,107.5 136.2,106.4 136.9,106.5 137.5,107.0 138.1,105.6 138.8,106.2 139.4,107.0 140.0,106.5 140.6,105.8 141.2,106.5 141.9,106.7 142.5,105.7 143.1,105.8 143.8,106.1 144.4,105.6 145.0,105.6 145.6,106.3 146.2,106.6 146.9,106.3 147.5,106.3 148.1,106.3 148.8,106.2 149.4,106.0 150.0,106.5 150.6,107.0 151.2,106.5 151.9,106.4 152.5,106.0 153.1,106.1 153.8,106.2 154.4,105.5 155.0,105.5 155.6,107.0 156.2,108.1 156.9,107.3 157.5,106.8 158.1,107.0 158.8,107.0 159.4,106.5 160.0,105.9 160.6,107.1 161.2,107.5 161.9,107.1 162.5,107.9 163.1,107.5 163.8,107.0 164.4,107.1 165.0,105.9" fill="none" stroke="#1c5288" stroke-width="1.0" stroke-linejoin="round" />
<path d="M40.0,110.5 40.6,110.5 41.2,110.5 41.9,110.5 42.5,110.5 43.1,110.5 43.8,110.5 44.4,110.5 45.0,110.5 45.6,110.5 46.2,110.5 46.9,110.5 47.5,110.5 48.1,110.5 48.8,109.6 49.4,107.7 50.0,104.0 50.6,98.0 51.2,91.2 51.9,84.9 52.5,80.4 53.1,76.1 53.8,72.2 54.4,68.8 55.0,66.4 55.6,65.1 56.2,64.2 56.9,63.8 57.5,64.3 58.1,65.6 58.8,67.1 59.4,69.4 60.0,72.4 60.6,75.0 61.2,77.1 61.9,79.1 62.5,81.0 63.1,82.6 63.8,83.9 64.4,85.0 65.0,86.0 65.6,87.0 66.2,87.8 66.9,88.6 67.5,89.3 68.1,90.0 68.8,90.6 69.4,91.3 70.0,91.9 70.6,92.6 71.2,93.2 71.9,93.5 72.5,93.9 73.1,94.4 73.8,95.1 74.4,95.6 75.0,95.9 75.6,95.6 76.2,95.0 76.9,95.5 77.5,95.6 78.1,96.1 78.8,97.2 79.4,97.9 80.0,97.9 80.6,97.6 81.2,97.9 81.9,97.6 82.5,98.0 83.1,98.9 83.8,98.9 84.4,98.6 85.0,98.7 85.6,98.6 86.2,98.8 86.9,99.4 87.5,98.7 88.1,98.2 88.8,99.2 89.4,100.2 90.0,100.6 90.6,100.1 91.2,99.6 91.9,98.8 92.5,99.4 93.1,100.6 93.8,100.8 94.4,100.9 95.0,101.1 95.6,101.7 96.2,101.2 96.9,100.7 97.5,100.7 98.1,101.1 98.8,101.7 99.4,101.2 100.0,102.3 100.6,103.3 101.2,102.2 101.9,101.6 102.5,102.9 103.1,103.4 103.8,103.1 104.4,103.0 105.0,101.9 105.6,102.0 106.3,101.9 106.9,101.8 107.5,103.1 108.1,102.4 108.8,101.7 109.4,101.8 110.0,101.4 110.6,101.6 111.2,102.0 111.9,103.4 112.5,104.4 113.1,103.5 113.8,103.0 114.4,103.0 115.0,103.3 115.6,103.2 116.2,102.1 116.9,102.4 117.5,103.0 118.1,103.1 118.8,103.1 119.4,103.3 120.0,104.0 120.6,104.1 121.2,103.8 121.9,104.7 122.5,104.7 123.1,104.0 123.8,104.1 124.4,104.4 125.0,104.3 125.6,103.8 126.2,104.4 126.9,104.6 127.5,103.9 128.1,103.8 128.8,104.6 129.4,105.5 130.0,105.1 130.6,105.1 131.2,104.0 131.9,104.0 132.5,105.5 133.1,104.9 133.8,104.8 134.4,106.2 135.0,106.1 135.6,105.5 136.2,105.7 136.9,106.1 137.5,106.3 138.1,105.7 138.8,105.3 139.4,105.8 140.0,106.1 140.6,106.0 141.2,105.7 141.9,105.4 142.5,106.1 143.1,105.8 143.8,105.5 144.4,105.7 145.0,105.8 145.6,105.9 146.2,105.6 146.9,105.7 147.5,105.5 148.1,105.3 148.8,105.5 149.4,105.6 150.0,106.3 150.6,106.5 151.2,106.9 151.9,108.0 152.5,107.1 153.1,106.2 153.8,105.4 154.4,105.0 155.0,105.2 155.6,105.7 156.2,106.0 156.9,105.4 157.5,105.4 158.1,105.7 158.8,106.0 159.4,106.6 160.0,107.0 160.6,107.3 161.2,106.7 161.9,106.2 162.5,106.7 163.1,106.4 163.8,106.4 164.4,106.1 165.0,105.0" fill="none" stroke="#2a65a0" stroke-width="1.0" stroke-linejoin="round" />
<path d="M40.0,110.5 40.6,110.5 41.2,110.5 41.9,110.5 42.5,110.5 43.1,110.5 43.8,110.5 44.4,110.5 45.0,110.5 45.6,110.5 46.2,110.5 46.9,110.5 47.5,110.5 48.1,109.9 48.8,108.0 49.4,105.1 50.0,100.0 50.6,93.7 51.2,87.4 51.9,82.5 52.5,78.8 53.1,75.3 53.8,72.3 54.4,70.1 55.0,68.9 55.6,68.0 56.2,67.6 56.9,68.1 57.5,69.3 58.1,70.8 58.8,73.0 59.4,75.9 60.0,79.0 60.6,81.6 61.2,83.7 61.9,85.6 62.5,87.4 63.1,88.9 63.8,90.0 64.4,90.8 65.0,91.8 65.6,94.2 66.2,97.6 66.9,101.2 67.5,105.0 68.1,107.7 68.8,108.4 69.4,108.9 70.0,109.2 70.6,109.4 71.2,109.6 71.9,109.6 72.5,109.6 73.1,109.7 73.8,109.8 74.4,109.9 75.0,109.8 75.6,109.7 76.2,109.8 76.9,109.9 77.5,110.0 78.1,110.1 78.8,110.2 79.4,110.1 80.0,110.0 80.6,110.1 81.2,110.0 81.9,109.9 82.5,110.0 83.1,110.1 83.8,110.2 84.4,110.1 85.0,110.1 85.6,110.3 86.2,110.1 86.9,109.9 87.5,110.0 88.1,110.0 88.8,109.9 89.4,110.0 90.0,110.0 90.6,110.0 91.2,109.9 91.9,110.0 92.5,110.1 93.1,110.1 93.8,110.3 94.4,110.3 95.0,110.1 95.6,110.1 96.2,110.1 96.9,110.1 97.5,110.1 98.1,110.1 98.8,110.1 99.4,110.1 100.0,110.1 100.6,110.1 101.2,110.2 101.9,110.2 102.5,110.1 103.1,110.2 103.8,110.3 104.4,110.1 105.0,110.1 105.6,110.2 106.3,110.4 106.9,110.3 107.5,110.1 108.1,110.1 108.8,110.0 109.4,110.0 110.0,110.2 110.6,110.2 111.2,110.2 111.9,110.2 112.5,110.1 113.1,110.1 113.8,110.2 114.4,110.3 115.0,110.1 115.6,110.2 116.2,110.2 116.9,110.0 117.5,110.0 118.1,110.1 118.8,110.1 119.4,110.1 120.0,110.2 120.6,110.2 121.2,110.1 121.9,110.1 122.5,110.1 123.1,110.1 123.8,110.3 124.4,110.3 125.0,110.2 125.6,110.3 126.2,110.2 126.9,110.1 127.5,110.3 128.1,110.5 128.8,110.5 129.4,110.3 130.0,110.1 130.6,110.2 131.2,110.3 131.9,110.2 132.5,110.3 133.1,110.5 133.8,110.5 134.4,110.4 135.0,110.2 135.6,110.2 136.2,110.2 136.9,110.3 137.5,110.3 138.1,110.2 138.8,110.3 139.4,110.3 140.0,110.3 140.6,110.3 141.2,110.3 141.9,110.4 142.5,110.3 143.1,110.2 143.8,110.2 144.4,110.3 145.0,110.3 145.6,110.2 146.2,110.3 146.9,110.3 147.5,110.4 148.1,110.4 148.8,110.3 149.4,110.2 150.0,110.2 150.6,110.2 151.2,110.2 151.9,110.3 152.5,110.3 153.1,110.2 153.8,110.2 154.4,110.2 155.0,110.2 155.6,110.2 156.2,110.1 156.9,110.2 157.5,110.2 158.1,110.1 158.8,110.2 159.4,110.3 160.0,110.2 160.6,110.2 161.2,110.3 161.9,110.3 162.5,110.3 163.1,110.4 163.8,110.2 164.4,110.2 165.0,110.4" fill="none" stroke="#1c5288" stroke-width="1.0" stroke-linejoin="round" />
<path d="M40.0,110.5 40.6,110.5 41.2,110.5 41.9,110.5 42.5,110.5 43.1,110.5 43.8,110.5 44.4,110.5 45.0,110.5 45.6,110.5 46.2,110.5 46.9,110.4 47.5,110.4 48.1,110.3 48.8,110.1 49.4,109.9 50.0,109.4 50.6,108.7 51.2,107.6 51.9,106.1 52.5,104.0 53.1,101.2 53.8,97.7 54.4,93.5 55.0,88.6 55.6,83.4 56.2,78.1 56.9,73.1 57.5,68.8 58.1,65.7 58.8,64.1 59.4,63.9 60.0,65.5 60.6,68.4 61.2,72.5 61.9,77.3 62.5,82.4 63.1,87.3 63.8,91.5 64.4,94.7 65.0,96.7 65.6,97.5 66.2,97.9 66.9,98.2 67.5,98.4 68.1,98.6 68.8,98.8 69.4,98.9 70.0,99.1 70.6,99.3 71.2,99.5 71.9,99.6 72.5,99.8 73.1,100.0 73.8,100.1 74.4,100.2 75.0,100.4 75.6,100.5 76.2,100.8 76.9,101.0 77.5,101.0 78.1,101.2 78.8,101.4 79.4,101.5 80.0,101.7 80.6,101.7 81.2,101.7 81.9,102.0 82.5,102.2 83.1,102.1 83.8,102.2 84.4,102.4 85.0,102.7 85.6,102.9 86.2,103.0 86.9,103.3 87.5,103.2 88.1,103.0 88.8,103.3 89.4,103.6 90.0,103.5 90.6,103.0 91.2,103.1 91.9,103.4 92.5,103.9 93.1,104.1 93.8,103.9 94.4,103.7 95.0,103.9 95.6,104.5 96.2,104.6 96.9,104.6 97.5,104.3 98.1,104.1 98.8,104.5 99.4,104.7 100.0,104.6 100.6,104.9 101.2,105.4 101.9,105.8 102.5,105.3 103.1,104.9 103.8,105.1 104.4,105.2 105.0,105.1 105.6,105.4 106.3,105.5 106.9,105.6 107.5,106.0 108.1,106.2 108.8,106.1 109.4,106.0 110.0,105.9 110.6,106.1 111.2,106.6 111.9,106.3 112.5,105.8 113.1,105.8 113.8,106.2 114.4,106.3 115.0,106.7 115.6,107.0 116.2,106.3 116.9,106.2 117.5,106.7 118.1,106.7 118.8,106.6 119.4,106.6 120.0,107.0 120.6,107.3 121.2,107.0 121.9,106.8 122.5,106.8 123.1,106.9 123.8,107.1 124.4,107.1 125.0,106.9 125.6,107.4 126.2,107.7 126.9,107.4 127.5,107.3 128.1,107.1 128.8,107.5 129.4,107.6 130.0,107.7 130.6,108.1 131.2,107.8 131.9,107.8 132.5,107.8 133.1,107.9 133.8,107.9 134.4,107.8 135.0,108.2 135.6,108.5 136.2,108.2 136.9,107.8 137.5,107.5 138.1,107.0 138.8,107.2 139.4,108.1 140.0,108.1 140.6,107.8 141.2,107.8 141.9,108.3 142.5,108.3 143.1,108.1 143.8,108.4 144.4,108.7 145.0,108.2 145.6,108.4 146.2,108.7 146.9,108.3 147.5,108.0 148.1,107.8 148.8,108.4 149.4,108.2 150.0,108.2 150.6,108.0 151.2,107.5 151.9,108.0 152.5,108.3 153.1,108.2 153.8,108.6 154.4,108.4 155.0,108.1 155.6,108.2 156.2,108.1 156.9,108.0 157.5,108.0 158.1,108.4 158.8,108.6 159.4,108.5 160.0,108.6 160.6,108.7 161.2,108.3 161.9,108.1 162.5,108.1 163.1,108.4 163.8,108.9 164.4,108.8 165.0,108.9" fill="none" stroke="#d43a64" stroke-width="1.3" stroke-linejoin="round" />
<path d="M162.8,108.6 L164.1,101.2 L165.0,109.1" fill="none" stroke="#1c5288" stroke-width="1.0" stroke-linejoin="round" />
<path d="M211.8,110.4 212.4,110.4 213.1,110.4 213.7,110.4 214.3,110.0 215.0,109.6 215.6,109.1 216.2,108.7 216.8,108.3 217.5,108.3 218.1,108.3 218.7,108.3 219.4,108.3 220.0,108.3 220.6,108.3 221.2,108.3 221.9,108.3 222.5,108.3 223.1,108.3 223.8,108.3 224.4,108.3 225.0,108.3 225.7,108.3 226.3,108.3 226.9,108.3 227.6,108.3 228.2,108.3 228.8,108.3 229.4,108.3 230.1,108.3 230.7,108.3 231.3,108.3 232.0,108.3 232.6,108.3 233.2,108.3 233.9,108.3 234.5,108.3 235.1,108.3 235.7,108.3 236.4,108.3 237.0,108.3 237.6,108.3 238.3,108.3 238.9,108.3 239.5,108.3 240.2,108.3 240.8,108.3 241.4,108.3 242.0,108.3 242.7,108.3 243.3,108.3 243.9,108.3 244.6,108.3 245.2,108.3 245.8,108.3 246.5,108.3 247.1,108.3 247.7,108.2 248.3,108.2 249.0,108.1 249.6,108.3 250.2,108.3 250.9,108.3 251.5,108.4 252.1,108.3 252.8,108.2 253.4,108.0 254.0,108.1 254.6,108.2 255.3,108.1 255.9,108.2 256.5,108.0 257.2,108.0 257.8,107.9 258.4,107.9 259.1,108.3 259.7,108.1 260.3,108.2 260.9,108.5 261.6,108.3 262.2,108.0 262.8,108.0 263.5,108.4 264.1,108.7 264.7,108.1 265.4,107.7 266.0,108.0 266.6,108.1 267.2,107.7 267.9,107.5 268.5,107.8 269.1,107.6 269.8,107.5 270.4,107.5 271.0,107.2 271.7,107.8 272.3,108.1 272.9,107.7 273.5,107.4 274.2,107.8 274.8,108.2 275.4,107.6 276.1,107.4 276.7,107.8 277.3,108.1 277.9,107.7 278.6,107.7 279.2,107.8 279.8,107.3 280.5,107.3 281.1,108.2 281.7,107.9 282.4,106.9 283.0,106.8 283.6,106.9 284.2,107.7 284.9,107.5 285.5,107.0 286.1,107.1 286.8,107.2 287.4,107.5 288.0,107.5 288.7,107.0 289.3,106.8 289.9,107.3 290.6,107.7 291.2,107.5 291.8,107.2 292.4,107.2 293.1,106.9 293.7,106.8 294.3,107.0 295.0,107.2 295.6,107.2 296.2,107.0 296.9,106.9 297.5,107.0 298.1,107.4 298.7,107.2 299.4,106.8 300.0,107.3 300.6,107.4 301.3,107.2 301.9,107.9 302.5,107.8 303.1,107.0 303.8,107.2 304.4,107.6 305.0,107.2 305.7,107.3 306.3,107.8 306.9,107.6 307.6,107.2 308.2,106.9 308.8,107.2 309.4,107.5 310.1,107.3 310.7,107.3 311.3,107.6 312.0,107.7 312.6,107.3 313.2,107.1 313.9,106.5 314.5,106.3 315.1,107.3 315.8,107.4 316.4,107.1 317.0,107.0 317.6,107.0 318.3,107.0 318.9,107.2 319.5,107.1 320.2,106.5 320.8,106.8 321.4,107.5 322.1,107.2 322.7,106.7 323.3,106.7 323.9,106.7 324.6,106.9 325.2,107.3 325.8,107.1 326.5,106.9 327.1,106.6 327.7,106.4 328.4,107.3 329.0,107.5 329.6,107.2 330.2,108.0 330.9,107.7 331.5,107.2 332.1,107.4 332.8,107.7 333.4,107.8 334.0,107.6 334.6,107.7 335.3,107.7 335.9,107.2 336.5,107.3 337.2,107.2 337.8,107.2" fill="none" stroke="#cc1238" stroke-width="0.9" stroke-linejoin="round" />
<path d="M211.8,110.4 212.4,110.4 213.1,110.4 213.7,110.4 214.3,110.0 215.0,109.7 215.6,109.3 216.2,108.9 216.8,108.6 217.5,108.2 218.1,107.8 218.7,107.5 219.4,107.1 220.0,106.7 220.6,106.7 221.2,106.7 221.9,106.7 222.5,106.7 223.1,106.7 223.8,106.7 224.4,106.7 225.0,106.7 225.7,106.7 226.3,106.7 226.9,106.7 227.6,106.7 228.2,106.7 228.8,106.7 229.4,106.7 230.1,106.7 230.7,106.7 231.3,106.7 232.0,106.7 232.6,106.7 233.2,106.7 233.9,106.7 234.5,106.7 235.1,106.7 235.7,106.7 236.4,106.7 237.0,106.7 237.6,106.7 238.3,106.7 238.9,106.7 239.5,106.7 240.2,106.7 240.8,106.7 241.4,106.7 242.0,106.7 242.7,106.7 243.3,106.7 243.9,106.7 244.6,106.7 245.2,106.7 245.8,106.6 246.5,106.6 247.1,106.5 247.7,106.6 248.3,106.5 249.0,106.3 249.6,106.4 250.2,106.5 250.9,106.4 251.5,106.2 252.1,106.0 252.8,106.1 253.4,106.1 254.0,105.9 254.6,106.0 255.3,105.8 255.9,106.0 256.5,106.0 257.2,106.0 257.8,106.2 258.4,106.1 259.1,105.6 259.7,105.1 260.3,105.2 260.9,105.4 261.6,105.6 262.2,105.3 262.8,104.8 263.5,104.9 264.1,105.3 264.7,105.6 265.4,105.5 266.0,105.0 266.6,105.2 267.2,105.5 267.9,104.7 268.5,104.4 269.1,104.4 269.8,104.5 270.4,104.8 271.0,104.5 271.7,104.4 272.3,104.7 272.9,105.0 273.5,105.5 274.2,104.9 274.8,104.5 275.4,105.2 276.1,104.7 276.7,104.7 277.3,105.4 277.9,105.2 278.6,104.8 279.2,104.5 279.8,104.3 280.5,104.0 281.1,104.2 281.7,104.3 282.4,104.3 283.0,104.6 283.6,104.4 284.2,104.0 284.9,103.5 285.5,103.4 286.1,104.2 286.8,104.1 287.4,104.0 288.0,103.7 288.7,104.1 289.3,104.8 289.9,104.5 290.6,104.2 291.2,104.1 291.8,104.6 292.4,105.1 293.1,104.6 293.7,103.6 294.3,103.2 295.0,103.7 295.6,104.0 296.2,104.2 296.9,104.8 297.5,104.1 298.1,103.5 298.7,104.0 299.4,104.3 300.0,103.9 300.6,103.7 301.3,104.1 301.9,104.1 302.5,104.0 303.1,104.2 303.8,104.4 304.4,104.0 305.0,103.9 305.7,104.6 306.3,103.9 306.9,103.1 307.6,103.5 308.2,103.9 308.8,104.0 309.4,104.5 310.1,104.5 310.7,104.0 311.3,104.0 312.0,104.0 312.6,104.2 313.2,104.2 313.9,104.5 314.5,104.6 315.1,104.3 315.8,104.7 316.4,104.6 317.0,104.2 317.6,104.3 318.3,104.0 318.9,104.0 319.5,104.0 320.2,103.6 320.8,104.0 321.4,103.8 322.1,104.1 322.7,104.3 323.3,103.9 323.9,103.8 324.6,104.3 325.2,104.9 325.8,104.7 326.5,104.3 327.1,104.1 327.7,104.1 328.4,104.2 329.0,104.4 329.6,104.7 330.2,104.6 330.9,104.1 331.5,103.6 332.1,103.9 332.8,103.9 333.4,104.2 334.0,104.3 334.6,104.2 335.3,104.4 335.9,104.3 336.5,104.7 337.2,104.6 337.8,103.8" fill="none" stroke="#ad1039" stroke-width="0.9" stroke-linejoin="round" />
<path d="M211.8,110.4 212.4,110.4 213.1,110.4 213.7,110.4 214.3,110.4 215.0,110.4 215.6,110.3 216.2,110.2 216.8,110.1 217.5,110.0 218.1,109.9 218.7,109.8 219.4,109.7 220.0,109.6 220.6,109.5 221.2,109.4 221.9,109.2 222.5,109.1 223.1,109.0 223.8,108.9 224.4,108.8 225.0,108.8 225.7,108.8 226.3,108.8 226.9,108.8 227.6,108.8 228.2,108.8 228.8,108.8 229.4,108.8 230.1,108.8 230.7,108.8 231.3,108.8 232.0,108.8 232.6,108.8 233.2,108.8 233.9,108.8 234.5,108.8 235.1,108.8 235.7,108.8 236.4,108.8 237.0,108.8 237.6,108.5 238.3,108.2 238.9,107.9 239.5,107.6 240.2,107.2 240.8,106.9 241.4,106.6 242.0,106.3 242.7,106.0 243.3,105.7 243.9,105.4 244.6,105.0 245.2,104.7 245.8,104.4 246.5,104.1 247.1,103.8 247.7,103.5 248.3,103.2 249.0,102.9 249.6,102.5 250.2,102.3 250.9,102.0 251.5,101.7 252.1,101.4 252.8,101.0 253.4,100.4 254.0,100.3 254.6,100.1 255.3,99.5 255.9,99.2 256.5,99.4 257.2,99.7 257.8,99.8 258.4,99.4 259.1,99.2 259.7,99.5 260.3,99.5 260.9,99.3 261.6,99.5 262.2,99.6 262.8,99.5 263.5,99.2 264.1,99.3 264.7,99.6 265.4,99.2 266.0,98.8 266.6,99.3 267.2,99.2 267.9,98.7 268.5,99.5 269.1,99.3 269.8,99.3 270.4,99.5 271.0,99.5 271.7,100.0 272.3,99.6 272.9,99.1 273.5,99.3 274.2,99.3 274.8,99.4 275.4,99.4 276.1,99.6 276.7,99.5 277.3,99.2 277.9,99.4 278.6,99.5 279.2,99.5 279.8,99.6 280.5,99.6 281.1,99.4 281.7,99.0 282.4,98.9 283.0,99.1 283.6,98.7 284.2,98.2 284.9,97.8 285.5,97.6 286.1,96.8 286.8,96.3 287.4,96.1 288.0,94.9 288.7,94.4 289.3,93.9 289.9,92.8 290.6,92.4 291.2,91.8 291.8,90.5 292.4,89.9 293.1,89.5 293.7,88.4 294.3,88.0 295.0,87.9 295.6,87.9 296.2,88.2 296.9,88.4 297.5,88.6 298.1,88.8 298.7,89.3 299.4,89.6 300.0,90.2 300.6,91.3 301.3,91.7 301.9,92.5 302.5,93.9 303.1,94.6 303.8,95.3 304.4,95.9 305.0,95.9 305.7,96.4 306.3,97.2 306.9,97.9 307.6,98.1 308.2,98.2 308.8,98.6 309.4,99.2 310.1,99.1 310.7,99.2 311.3,99.5 312.0,99.6 312.6,100.0 313.2,100.2 313.9,99.9 314.5,100.0 315.1,100.4 315.8,100.4 316.4,100.3 317.0,99.9 317.6,100.3 318.3,100.8 318.9,100.3 319.5,100.4 320.2,100.8 320.8,101.2 321.4,101.2 322.1,100.7 322.7,100.8 323.3,101.1 323.9,101.3 324.6,101.3 325.2,101.3 325.8,101.3 326.5,101.3 327.1,101.6 327.7,101.8 328.4,102.1 329.0,102.1 329.6,101.3 330.2,101.4 330.9,101.0 331.5,101.2 332.1,101.7 332.8,101.7 333.4,101.8 334.0,101.7 334.6,101.9 335.3,102.0 335.9,101.3 336.5,101.1 337.2,101.3 337.8,101.5" fill="none" stroke="#cc1238" stroke-width="1.2" stroke-linejoin="round" />
<path d="M211.8,110.4 212.4,110.4 213.1,110.4 213.7,110.4 214.3,110.4 215.0,110.4 215.6,110.3 216.2,110.3 216.8,110.2 217.5,110.1 218.1,110.1 218.7,110.0 219.4,109.9 220.0,109.8 220.6,109.8 221.2,109.7 221.9,109.6 222.5,109.6 223.1,109.5 223.8,109.4 224.4,109.4 225.0,109.4 225.7,109.4 226.3,109.4 226.9,109.4 227.6,109.4 228.2,109.4 228.8,109.4 229.4,109.4 230.1,109.4 230.7,109.4 231.3,109.4 232.0,109.4 232.6,109.4 233.2,109.4 233.9,109.4 234.5,109.4 235.1,109.4 235.7,109.4 236.4,109.4 237.0,109.4 237.6,109.4 238.3,109.4 238.9,109.4 239.5,109.4 240.2,109.4 240.8,109.4 241.4,109.4 242.0,109.4 242.7,109.4 243.3,109.4 243.9,109.3 244.6,109.4 245.2,109.3 245.8,109.3 246.5,109.3 247.1,109.3 247.7,109.3 248.3,109.3 249.0,109.3 249.6,109.4 250.2,109.2 250.9,109.0 251.5,108.9 252.1,108.7 252.8,108.7 253.4,108.8 254.0,108.8 254.6,108.7 255.3,108.6 255.9,108.3 256.5,108.0 257.2,108.1 257.8,108.1 258.4,107.7 259.1,107.5 259.7,107.3 260.3,107.4 260.9,107.5 261.6,107.3 262.2,107.1 262.8,107.2 263.5,107.3 264.1,107.0 264.7,106.8 265.4,106.9 266.0,106.5 266.6,106.4 267.2,106.2 267.9,106.3 268.5,106.3 269.1,106.2 269.8,106.6 270.4,106.4 271.0,106.0 271.7,105.8 272.3,106.0 272.9,105.5 273.5,105.3 274.2,105.5 274.8,105.1 275.4,105.2 276.1,105.2 276.7,104.9 277.3,105.0 277.9,105.0 278.6,105.1 279.2,105.5 279.8,105.3 280.5,105.3 281.1,105.3 281.7,105.1 282.4,105.3 283.0,105.1 283.6,104.9 284.2,105.7 284.9,105.8 285.5,105.2 286.1,105.0 286.8,105.2 287.4,105.5 288.0,105.4 288.7,105.0 289.3,105.4 289.9,105.9 290.6,105.6 291.2,105.8 291.8,105.8 292.4,105.1 293.1,105.1 293.7,105.2 294.3,105.2 295.0,105.1 295.6,104.7 296.2,104.4 296.9,104.4 297.5,104.3 298.1,104.1 298.7,104.2 299.4,103.7 300.0,103.5 300.6,103.4 301.3,102.3 301.9,101.7 302.5,101.8 303.1,101.3 303.8,100.6 304.4,99.9 305.0,99.2 305.7,98.2 306.3,97.3 306.9,96.3 307.6,94.8 308.2,93.7 308.8,92.3 309.4,91.8 310.1,91.6 310.7,90.6 311.3,89.7 312.0,88.6 312.6,88.0 313.2,87.8 313.9,87.6 314.5,87.5 315.1,87.3 315.8,87.3 316.4,87.8 317.0,88.3 317.6,88.4 318.3,88.8 318.9,88.8 319.5,88.5 320.2,87.9 320.8,88.1 321.4,88.7 322.1,89.3 322.7,89.5 323.3,89.8 323.9,90.5 324.6,90.5 325.2,90.5 325.8,91.0 326.5,91.4 327.1,91.8 327.7,92.8 328.4,93.3 329.0,93.6 329.6,94.3 330.2,94.5 330.9,95.0 331.5,95.6 332.1,96.2 332.8,97.2 333.4,97.9 334.0,98.4 334.6,99.1 335.3,99.6 335.9,99.7 336.5,100.3 337.2,101.2 337.8,101.9" fill="none" stroke="#cc1238" stroke-width="1.2" stroke-linejoin="round" />
<path d="M211.8,110.4 212.4,110.4 213.1,110.4 213.7,110.4 214.3,110.4 215.0,110.4 215.6,110.3 216.2,110.3 216.8,110.2 217.5,110.1 218.1,110.1 218.7,110.0 219.4,109.9 220.0,109.8 220.6,109.8 221.2,109.7 221.9,109.6 222.5,109.6 223.1,109.5 223.8,109.4 224.4,109.4 225.0,109.4 225.7,109.4 226.3,109.4 226.9,109.4 227.6,109.4 228.2,109.4 228.8,109.4 229.4,109.4 230.1,109.4 230.7,109.4 231.3,109.4 232.0,109.4 232.6,109.4 233.2,109.4 233.9,109.4 234.5,109.4 235.1,109.4 235.7,109.4 236.4,109.4 237.0,109.4 237.6,109.4 238.3,109.4 238.9,109.4 239.5,109.4 240.2,109.4 240.8,109.4 241.4,109.4 242.0,109.4 242.7,109.4 243.3,109.4 243.9,109.3 244.6,109.3 245.2,109.3 245.8,109.4 246.5,109.4 247.1,109.5 247.7,109.5 248.3,109.5 249.0,109.3 249.6,109.3 250.2,109.4 250.9,109.5 251.5,109.5 252.1,109.6 252.8,109.7 253.4,109.3 254.0,109.1 254.6,109.4 255.3,109.4 255.9,109.0 256.5,109.1 257.2,109.2 257.8,109.2 258.4,109.4 259.1,108.8 259.7,107.7 260.3,108.0 260.9,108.9 261.6,108.3 262.2,107.6 262.8,107.7 263.5,107.4 264.1,107.5 264.7,107.7 265.4,107.3 266.0,107.3 266.6,107.3 267.2,107.2 267.9,107.0 268.5,106.8 269.1,107.4 269.8,107.3 270.4,107.1 271.0,107.2 271.7,107.2 272.3,106.5 272.9,106.0 273.5,106.3 274.2,105.7 274.8,105.2 275.4,105.5 276.1,106.3 276.7,105.9 277.3,105.2 277.9,105.4 278.6,105.0 279.2,104.9 279.8,105.1 280.5,104.5 281.1,104.2 281.7,104.5 282.4,104.1 283.0,103.5 283.6,103.2 284.2,103.5 284.9,103.9 285.5,103.4 286.1,103.2 286.8,103.4 287.4,103.4 288.0,103.5 288.7,103.5 289.3,103.5 289.9,103.0 290.6,102.8 291.2,103.3 291.8,103.0 292.4,102.0 293.1,101.4 293.7,102.5 294.3,103.0 295.0,102.0 295.6,101.6 296.2,101.7 296.9,101.7 297.5,101.6 298.1,101.7 298.7,101.2 299.4,101.1 300.0,101.4 300.6,100.4 301.3,99.9 301.9,100.3 302.5,100.5 303.1,100.5 303.8,100.5 304.4,100.2 305.0,99.4 305.7,99.3 306.3,99.3 306.9,98.9 307.6,98.9 308.2,99.0 308.8,98.7 309.4,98.5 310.1,98.5 310.7,98.5 311.3,99.1 312.0,98.5 312.6,97.4 313.2,97.6 313.9,97.7 314.5,97.3 315.1,97.4 315.8,97.2 316.4,96.5 317.0,96.4 317.6,96.2 318.3,97.1 318.9,97.2 319.5,96.7 320.2,96.6 320.8,96.1 321.4,96.3 322.1,96.7 322.7,96.2 323.3,96.2 323.9,97.5 324.6,97.3 325.2,97.6 325.8,97.4 326.5,96.8 327.1,97.1 327.7,97.2 328.4,97.6 329.0,98.5 329.6,98.9 330.2,98.5 330.9,98.5 331.5,98.7 332.1,98.9 332.8,99.4 333.4,99.2 334.0,98.8 334.6,99.0 335.3,99.6 335.9,100.2 336.5,99.3 337.2,99.2 337.8,100.2" fill="none" stroke="#cc1238" stroke-width="1.2" stroke-linejoin="round" />
<path d="M211.8,110.4 212.4,110.4 213.1,110.4 213.7,110.4 214.3,110.4 215.0,110.4 215.6,110.3 216.2,110.3 216.8,110.2 217.5,110.1 218.1,110.1 218.7,110.0 219.4,109.9 220.0,109.8 220.6,109.8 221.2,109.7 221.9,109.6 222.5,109.6 223.1,109.5 223.8,109.4 224.4,109.4 225.0,109.4 225.7,109.4 226.3,109.4 226.9,109.4 227.6,109.4 228.2,109.4 228.8,109.3 229.4,109.3 230.1,109.3 230.7,109.3 231.3,109.3 232.0,109.3 232.6,109.3 233.2,109.3 233.9,109.3 234.5,109.3 235.1,109.3 235.7,109.3 236.4,109.3 237.0,109.3 237.6,109.3 238.3,109.3 238.9,109.3 239.5,109.3 240.2,109.3 240.8,109.3 241.4,109.3 242.0,109.3 242.7,109.3 243.3,109.3 243.9,109.3 244.6,109.3 245.2,109.3 245.8,109.4 246.5,109.3 247.1,109.4 247.7,109.4 248.3,109.4 249.0,109.5 249.6,109.6 250.2,109.7 250.9,109.4 251.5,109.1 252.1,109.2 252.8,109.2 253.4,109.2 254.0,109.4 254.6,109.6 255.3,109.4 255.9,109.1 256.5,108.8 257.2,109.0 257.8,109.2 258.4,109.2 259.1,108.8 259.7,108.2 260.3,108.2 260.9,108.3 261.6,108.3 262.2,108.3 262.8,107.9 263.5,107.8 264.1,107.8 264.7,107.4 265.4,107.8 266.0,108.3 266.6,108.1 267.2,107.5 267.9,107.6 268.5,107.3 269.1,106.3 269.8,106.2 270.4,107.1 271.0,108.0 271.7,107.0 272.3,105.5 272.9,105.8 273.5,106.1 274.2,105.9 274.8,106.2 275.4,105.6 276.1,105.5 276.7,105.4 277.3,104.5 277.9,104.7 278.6,104.5 279.2,104.9 279.8,105.1 280.5,104.5 281.1,103.8 281.7,103.6 282.4,104.7 283.0,104.1 283.6,104.2 284.2,104.5 284.9,104.1 285.5,103.6 286.1,103.3 286.8,103.4 287.4,103.2 288.0,103.9 288.7,104.7 289.3,103.6 289.9,102.7 290.6,103.8 291.2,103.9 291.8,103.1 292.4,103.5 293.1,103.0 293.7,102.5 294.3,103.5 295.0,102.8 295.6,102.6 296.2,103.4 296.9,103.0 297.5,102.4 298.1,102.3 298.7,102.7 299.4,103.4 300.0,102.7 300.6,102.3 301.3,103.2 301.9,103.1 302.5,102.0 303.1,101.9 303.8,101.5 304.4,101.2 305.0,101.5 305.7,101.7 306.3,101.8 306.9,101.0 307.6,100.3 308.2,99.9 308.8,99.5 309.4,100.1 310.1,100.2 310.7,99.2 311.3,99.4 312.0,99.1 312.6,98.7 313.2,98.3 313.9,97.9 314.5,97.7 315.1,97.7 315.8,97.2 316.4,96.5 317.0,96.1 317.6,96.2 318.3,96.9 318.9,96.6 319.5,96.5 320.2,96.9 320.8,96.6 321.4,96.3 322.1,96.5 322.7,96.6 323.3,96.8 323.9,96.7 324.6,97.0 325.2,96.5 325.8,96.2 326.5,96.7 327.1,97.4 327.7,97.9 328.4,97.8 329.0,97.8 329.6,97.8 330.2,99.0 330.9,99.3 331.5,99.5 332.1,99.8 332.8,99.5 333.4,100.8 334.0,100.8 334.6,100.6 335.3,101.5 335.9,102.0 336.5,101.7 337.2,102.2 337.8,102.9" fill="none" stroke="#ad1039" stroke-width="1.2" stroke-linejoin="round" />
<path d="M211.8,110.4 212.4,110.4 213.1,110.4 213.7,110.4 214.3,110.4 215.0,110.4 215.6,110.3 216.2,110.3 216.8,110.2 217.5,110.1 218.1,110.1 218.7,110.0 219.4,109.9 220.0,109.8 220.6,109.8 221.2,109.7 221.9,109.6 222.5,109.6 223.1,109.5 223.8,109.4 224.4,109.4 225.0,109.4 225.7,109.4 226.3,109.4 226.9,109.4 227.6,109.4 228.2,109.4 228.8,109.4 229.4,109.4 230.1,109.4 230.7,109.4 231.3,109.4 232.0,109.4 232.6,109.4 233.2,109.4 233.9,109.4 234.5,109.4 235.1,109.4 235.7,109.4 236.4,109.4 237.0,109.4 237.6,109.4 238.3,109.4 238.9,109.4 239.5,109.4 240.2,109.4 240.8,109.4 241.4,109.4 242.0,109.4 242.7,109.4 243.3,109.4 243.9,109.3 244.6,109.3 245.2,109.4 245.8,109.4 246.5,109.4 247.1,109.3 247.7,109.4 248.3,109.6 249.0,109.4 249.6,109.2 250.2,109.3 250.9,109.3 251.5,109.4 252.1,109.5 252.8,109.4 253.4,109.7 254.0,109.5 254.6,109.4 255.3,109.5 255.9,109.3 256.5,109.4 257.2,109.4 257.8,108.8 258.4,109.0 259.1,109.2 259.7,109.0 260.3,109.5 260.9,109.9 261.6,109.7 262.2,109.9 262.8,109.9 263.5,109.3 264.1,109.2 264.7,109.1 265.4,108.8 266.0,109.1 266.6,109.0 267.2,108.8 267.9,109.0 268.5,109.2 269.1,109.1 269.8,109.3 270.4,109.3 271.0,108.7 271.7,109.2 272.3,109.9 272.9,109.9 273.5,109.6 274.2,109.2 274.8,108.9 275.4,108.3 276.1,108.0 276.7,108.4 277.3,109.0 277.9,109.3 278.6,108.8 279.2,108.2 279.8,108.4 280.5,108.5 281.1,108.4 281.7,109.0 282.4,108.9 283.0,107.9 283.6,107.8 284.2,108.1 284.9,108.0 285.5,107.4 286.1,106.7 286.8,106.4 287.4,106.7 288.0,106.8 288.7,107.1 289.3,107.0 289.9,106.7 290.6,106.3 291.2,105.2 291.8,104.6 292.4,104.3 293.1,104.4 293.7,104.1 294.3,103.9 295.0,104.5 295.6,104.1 296.2,103.2 296.9,103.5 297.5,103.4 298.1,103.3 298.7,103.0 299.4,101.6 300.0,101.4 300.6,101.1 301.3,100.7 301.9,101.2 302.5,101.6 303.1,101.0 303.8,100.0 304.4,100.5 305.0,100.7 305.7,99.7 306.3,99.6 306.9,99.7 307.6,99.9 308.2,100.1 308.8,99.0 309.4,98.4 310.1,98.2 310.7,97.3 311.3,97.1 312.0,98.9 312.6,102.4 313.2,105.3 313.9,104.9 314.5,102.0 315.1,99.4 315.8,98.3 316.4,98.7 317.0,98.7 317.6,98.2 318.3,97.9 318.9,98.1 319.5,98.6 320.2,98.6 320.8,98.5 321.4,98.7 322.1,98.7 322.7,98.2 323.3,98.6 323.9,99.2 324.6,99.2 325.2,98.9 325.8,98.2 326.5,98.0 327.1,98.5 327.7,98.9 328.4,98.6 329.0,98.5 329.6,98.7 330.2,98.7 330.9,98.7 331.5,98.8 332.1,98.7 332.8,99.2 333.4,99.4 334.0,99.4 334.6,99.3 335.3,99.1 335.9,98.9 336.5,98.3 337.2,98.8 337.8,99.5" fill="none" stroke="#cc1238" stroke-width="1.2" stroke-linejoin="round" />
<path d="M211.8,110.4 212.4,110.4 213.1,110.4 213.7,110.4 214.3,110.4 215.0,110.4 215.6,110.4 216.2,110.4 216.8,110.4 217.5,110.4 218.1,110.4 218.7,110.4 219.4,109.0 220.0,106.2 220.6,100.7 221.2,92.3 221.9,83.6 222.5,76.7 223.1,70.3 223.8,64.5 224.4,60.0 225.0,56.5 225.7,53.6 226.3,51.6 226.9,50.3 227.6,50.4 228.2,52.7 228.8,57.5 229.4,63.6 230.1,70.7 230.7,77.4 231.3,82.1 232.0,85.9 232.6,89.0 233.2,91.4 233.9,93.1 234.5,94.4 235.1,95.6 235.7,96.5 236.4,97.2 237.0,97.9 237.6,98.5 238.3,99.1 238.9,99.6 239.5,99.9 240.2,100.2 240.8,100.6 241.4,100.7 242.0,101.1 242.7,101.4 243.3,101.7 243.9,102.2 244.6,102.4 245.2,102.3 245.8,102.4 246.5,102.5 247.1,102.7 247.7,102.5 248.3,102.6 249.0,103.1 249.6,102.8 250.2,103.1 250.9,103.5 251.5,102.7 252.1,102.8 252.8,102.8 253.4,103.0 254.0,103.9 254.6,104.0 255.3,104.1 255.9,104.2 256.5,104.2 257.2,103.7 257.8,103.4 258.4,103.9 259.1,104.5 259.7,102.9 260.3,102.7 260.9,103.6 261.6,104.2 262.2,105.2 262.8,104.1 263.5,104.3 264.1,105.5 264.7,105.0 265.4,104.9 266.0,105.1 266.6,104.7 267.2,104.2 267.9,104.2 268.5,104.5 269.1,104.0 269.8,103.5 270.4,104.3 271.0,105.9 271.7,106.3 272.3,104.9 272.9,104.7 273.5,105.6 274.2,105.6 274.8,104.5 275.4,104.3 276.1,105.3 276.7,105.7 277.3,106.1 277.9,104.4 278.6,103.9 279.2,105.2 279.8,105.4 280.5,105.0 281.1,105.3 281.7,106.8 282.4,106.6 283.0,105.5 283.6,104.2 284.2,104.4 284.9,105.9 285.5,106.0 286.1,106.0 286.8,106.3 287.4,105.9 288.0,105.4 288.7,105.8 289.3,105.4 289.9,105.1 290.6,105.6 291.2,105.8 291.8,105.7 292.4,105.3 293.1,105.2 293.7,105.8 294.3,105.8 295.0,105.7 295.6,105.9 296.2,105.3 296.9,104.7 297.5,105.2 298.1,106.5 298.7,106.2 299.4,105.1 300.0,105.4 300.6,104.8 301.3,105.6 301.9,106.0 302.5,104.6 303.1,104.8 303.8,105.7 304.4,105.6 305.0,104.7 305.7,104.7 306.3,105.4 306.9,106.1 307.6,105.4 308.2,105.1 308.8,105.9 309.4,106.5 310.1,106.2 310.7,106.5 311.3,106.3 312.0,105.6 312.6,106.6 313.2,106.5 313.9,105.2 314.5,105.3 315.1,106.5 315.8,106.9 316.4,105.9 317.0,106.2 317.6,106.8 318.3,105.7 318.9,105.6 319.5,106.5 320.2,106.0 320.8,104.9 321.4,105.1 322.1,106.5 322.7,107.5 323.3,107.0 323.9,107.1 324.6,107.0 325.2,105.7 325.8,106.9 326.5,107.5 327.1,106.0 327.7,106.2 328.4,106.2 329.0,105.7 329.6,105.4 330.2,104.3 330.9,104.7 331.5,106.4 332.1,107.1 332.8,107.2 333.4,106.4 334.0,105.6 334.6,105.8 335.3,105.8 335.9,105.3 336.5,104.9 337.2,105.1 337.8,106.0" fill="none" stroke="#1c5288" stroke-width="1.35" stroke-linejoin="round" />
<path d="M211.8,110.4 212.4,110.4 213.1,110.4 213.7,110.4 214.3,110.4 215.0,110.4 215.6,110.4 216.2,110.4 216.8,110.4 217.5,110.4 218.1,110.4 218.7,110.4 219.4,110.4 220.0,109.1 220.6,106.5 221.2,101.3 221.9,93.4 222.5,85.2 223.1,78.7 223.8,72.7 224.4,67.3 225.0,63.0 225.7,59.7 226.3,57.0 226.9,55.1 227.6,53.9 228.2,54.0 228.8,56.1 229.4,60.7 230.1,66.5 230.7,73.1 231.3,79.3 232.0,83.7 232.6,87.3 233.2,90.3 233.9,92.5 234.5,94.0 235.1,95.3 235.7,96.4 236.4,97.3 237.0,98.0 237.6,98.6 238.3,99.1 238.9,99.5 239.5,99.9 240.2,100.1 240.8,100.5 241.4,100.8 242.0,101.1 242.7,101.6 243.3,102.0 243.9,102.4 244.6,102.1 245.2,102.2 245.8,102.7 246.5,102.9 247.1,103.1 247.7,103.4 248.3,103.7 249.0,103.2 249.6,102.5 250.2,103.0 250.9,103.9 251.5,104.1 252.1,102.9 252.8,103.4 253.4,104.5 254.0,104.2 254.6,103.7 255.3,104.2 255.9,104.5 256.5,104.3 257.2,104.7 257.8,104.9 258.4,104.6 259.1,104.3 259.7,104.9 260.3,104.1 260.9,103.7 261.6,103.2 262.2,103.2 262.8,104.3 263.5,104.5 264.1,103.3 264.7,102.8 265.4,104.3 266.0,104.8 266.6,104.9 267.2,104.8 267.9,104.8 268.5,105.4 269.1,105.0 269.8,104.1 270.4,104.0 271.0,104.3 271.7,104.7 272.3,106.3 272.9,106.4 273.5,105.4 274.2,105.1 274.8,104.2 275.4,104.1 276.1,105.8 276.7,106.2 277.3,105.5 277.9,105.2 278.6,105.1 279.2,106.4 279.8,106.8 280.5,106.1 281.1,106.7 281.7,106.6 282.4,105.8 283.0,105.2 283.6,105.2 284.2,106.0 284.9,106.0 285.5,105.8 286.1,105.3 286.8,105.7 287.4,107.3 288.0,105.5 288.7,104.1 289.3,105.4 289.9,104.6 290.6,105.2 291.2,106.8 291.8,106.4 292.4,105.8 293.1,105.9 293.7,105.7 294.3,105.7 295.0,105.5 295.6,105.1 296.2,106.5 296.9,106.8 297.5,106.5 298.1,106.6 298.7,106.0 299.4,104.9 300.0,105.0 300.6,106.9 301.3,106.7 301.9,106.5 302.5,105.7 303.1,104.8 303.8,105.0 304.4,105.5 305.0,106.8 305.7,106.5 306.3,106.6 306.9,107.2 307.6,107.0 308.2,106.6 308.8,106.9 309.4,107.9 310.1,106.5 310.7,105.7 311.3,106.5 312.0,106.0 312.6,105.7 313.2,106.3 313.9,106.7 314.5,105.7 315.1,104.8 315.8,105.3 316.4,105.1 317.0,106.3 317.6,107.1 318.3,106.3 318.9,107.3 319.5,107.0 320.2,105.8 320.8,105.8 321.4,107.0 322.1,107.2 322.7,106.3 323.3,106.3 323.9,106.3 324.6,105.9 325.2,105.4 325.8,105.5 326.5,104.9 327.1,104.9 327.7,106.1 328.4,105.8 329.0,106.0 329.6,106.5 330.2,105.9 330.9,106.7 331.5,108.2 332.1,106.2 332.8,105.0 333.4,105.7 334.0,105.9 334.6,106.0 335.3,106.6 335.9,106.9 336.5,107.0 337.2,106.3 337.8,105.5" fill="none" stroke="#1c5288" stroke-width="1.2" stroke-linejoin="round" />
<path d="M211.8,110.4 212.4,110.4 213.1,110.4 213.7,110.4 214.3,110.4 215.0,110.4 215.6,110.4 216.2,110.4 216.8,110.4 217.5,110.4 218.1,110.4 218.7,110.1 219.4,108.1 220.0,104.8 220.6,98.5 221.2,90.8 221.9,83.9 222.5,78.3 223.1,72.9 223.8,68.4 224.4,65.0 225.0,62.2 225.7,60.0 226.3,58.6 226.9,57.9 227.6,59.1 228.2,61.9 228.8,67.0 229.4,72.8 230.1,78.9 230.7,83.9 231.3,87.5 232.0,90.5 232.6,92.9 233.2,94.6 233.9,95.9 234.5,97.0 235.1,97.9 235.7,98.6 236.4,99.2 237.0,99.8 237.6,100.2 238.3,100.6 238.9,100.9 239.5,101.3 240.2,101.7 240.8,102.2 241.4,102.6 242.0,102.8 242.7,102.8 243.3,102.9 243.9,102.8 244.6,102.9 245.2,103.1 245.8,103.1 246.5,103.3 247.1,103.8 247.7,103.5 248.3,103.3 249.0,104.4 249.6,104.6 250.2,104.5 250.9,104.0 251.5,103.3 252.1,103.2 252.8,102.7 253.4,103.6 254.0,105.5 254.6,105.7 255.3,104.7 255.9,105.6 256.5,106.2 257.2,104.5 257.8,104.7 258.4,105.2 259.1,105.3 259.7,104.4 260.3,103.0 260.9,104.4 261.6,105.8 262.2,105.3 262.8,104.6 263.5,104.5 264.1,104.5 264.7,104.3 265.4,104.0 266.0,103.6 266.6,104.2 267.2,105.3 267.9,105.5 268.5,104.2 269.1,103.8 269.8,104.5 270.4,104.3 271.0,104.1 271.7,103.6 272.3,104.7 272.9,105.7 273.5,105.0 274.2,104.7 274.8,105.3 275.4,106.5 276.1,106.5 276.7,106.1 277.3,106.0 277.9,105.2 278.6,104.8 279.2,105.9 279.8,106.7 280.5,106.0 281.1,105.1 281.7,105.3 282.4,105.8 283.0,106.5 283.6,106.9 284.2,106.5 284.9,106.2 285.5,106.0 286.1,106.5 286.8,107.0 287.4,106.4 288.0,106.2 288.7,105.8 289.3,105.4 289.9,106.1 290.6,105.8 291.2,106.2 291.8,106.2 292.4,106.0 293.1,106.1 293.7,106.1 294.3,107.0 295.0,107.5 295.6,107.1 296.2,105.9 296.9,106.7 297.5,106.0 298.1,105.4 298.7,106.8 299.4,105.8 300.0,105.5 300.6,105.8 301.3,106.9 301.9,106.6 302.5,105.2 303.1,106.2 303.8,106.2 304.4,106.7 305.0,106.5 305.7,105.7 306.3,106.0 306.9,106.5 307.6,107.2 308.2,106.8 308.8,105.8 309.4,105.9 310.1,106.4 310.7,106.8 311.3,106.3 312.0,105.4 312.6,105.8 313.2,106.9 313.9,105.7 314.5,106.0 315.1,107.1 315.8,106.4 316.4,105.9 317.0,105.9 317.6,107.4 318.3,107.9 318.9,107.0 319.5,106.5 320.2,106.8 320.8,107.1 321.4,107.6 322.1,108.0 322.7,107.6 323.3,107.2 323.9,106.9 324.6,107.2 325.2,106.4 325.8,106.6 326.5,107.0 327.1,105.9 327.7,105.5 328.4,105.1 329.0,106.5 329.6,107.0 330.2,106.0 330.9,105.7 331.5,105.8 332.1,106.6 332.8,106.2 333.4,106.0 334.0,106.8 334.6,106.7 335.3,106.7 335.9,107.1 336.5,106.8 337.2,105.2 337.8,105.1" fill="none" stroke="#1c5288" stroke-width="1.2" stroke-linejoin="round" />
<path d="M211.8,110.4 212.4,110.4 213.1,110.4 213.7,110.4 214.3,110.4 215.0,110.4 215.6,110.4 216.2,110.4 216.8,110.4 217.5,110.4 218.1,110.4 218.7,110.4 219.4,110.4 220.0,110.3 220.6,108.8 221.2,106.2 221.9,100.9 222.5,93.7 223.1,86.8 223.8,81.4 224.4,76.3 225.0,71.7 225.7,68.3 226.3,65.5 226.9,63.3 227.6,61.9 228.2,60.9 228.8,61.6 229.4,63.7 230.1,68.3 230.7,73.5 231.3,79.3 232.0,84.4 232.6,87.9 233.2,90.9 233.9,93.3 234.5,95.1 235.1,96.4 235.7,97.5 236.4,98.3 237.0,99.0 237.6,99.6 238.3,100.1 238.9,100.5 239.5,100.9 240.2,101.3 240.8,101.6 241.4,101.8 242.0,101.9 242.7,102.3 243.3,102.8 243.9,103.1 244.6,103.4 245.2,102.9 245.8,103.0 246.5,103.7 247.1,103.8 247.7,103.6 248.3,103.7 249.0,104.5 249.6,104.4 250.2,103.7 250.9,103.8 251.5,104.1 252.1,104.5 252.8,105.0 253.4,104.8 254.0,105.0 254.6,105.3 255.3,105.3 255.9,105.3 256.5,104.4 257.2,104.4 257.8,104.3 258.4,104.1 259.1,104.8 259.7,105.5 260.3,105.4 260.9,105.6 261.6,105.3 262.2,105.4 262.8,106.5 263.5,106.3 264.1,106.5 264.7,106.0 265.4,105.6 266.0,106.0 266.6,105.3 267.2,106.2 267.9,106.7 268.5,105.4 269.1,104.9 269.8,105.0 270.4,105.9 271.0,105.5 271.7,104.8 272.3,104.2 272.9,103.6 273.5,104.8 274.2,105.2 274.8,105.0 275.4,106.2 276.1,106.0 276.7,104.9 277.3,106.4 277.9,106.4 278.6,105.7 279.2,105.6 279.8,105.1 280.5,105.8 281.1,105.3 281.7,105.5 282.4,105.2 283.0,105.5 283.6,106.9 284.2,107.0 284.9,106.4 285.5,105.9 286.1,105.8 286.8,105.3 287.4,105.3 288.0,105.3 288.7,105.2 289.3,105.8 289.9,106.7 290.6,107.1 291.2,106.4 291.8,106.2 292.4,107.1 293.1,107.2 293.7,106.9 294.3,106.4 295.0,106.4 295.6,107.0 296.2,106.6 296.9,107.2 297.5,107.7 298.1,106.1 298.7,105.8 299.4,105.8 300.0,105.8 300.6,106.2 301.3,106.2 301.9,106.7 302.5,106.5 303.1,105.9 303.8,107.0 304.4,107.9 305.0,108.0 305.7,108.0 306.3,107.7 306.9,107.4 307.6,107.0 308.2,106.3 308.8,105.6 309.4,106.4 310.1,107.3 310.7,106.6 311.3,106.7 312.0,107.2 312.6,107.8 313.2,107.2 313.9,106.2 314.5,107.0 315.1,107.8 315.8,107.9 316.4,107.0 317.0,106.7 317.6,107.6 318.3,107.5 318.9,106.5 319.5,105.7 320.2,105.5 320.8,106.0 321.4,106.6 322.1,106.5 322.7,106.3 323.3,106.1 323.9,106.9 324.6,107.6 325.2,107.3 325.8,106.6 326.5,106.7 327.1,107.4 327.7,106.6 328.4,105.6 329.0,106.5 329.6,107.3 330.2,106.3 330.9,106.4 331.5,106.5 332.1,107.0 332.8,107.6 333.4,106.6 334.0,105.7 334.6,105.6 335.3,107.1 335.9,108.3 336.5,108.0 337.2,106.8 337.8,106.0" fill="none" stroke="#1c5288" stroke-width="1.1" stroke-linejoin="round" />
<path d="M211.8,110.4 212.4,110.4 213.1,110.4 213.7,110.4 214.3,110.4 215.0,110.4 215.6,110.4 216.2,110.4 216.8,110.4 217.5,110.4 218.1,110.4 218.7,110.4 219.4,110.1 220.0,108.4 220.6,105.5 221.2,100.0 221.9,93.2 222.5,87.3 223.1,82.3 223.8,77.6 224.4,73.7 225.0,70.7 225.7,68.3 226.3,66.4 226.9,65.2 227.6,64.5 228.2,65.5 228.8,68.0 229.4,72.5 230.1,77.5 230.7,82.9 231.3,87.2 232.0,90.3 232.6,93.0 233.2,95.1 233.9,96.5 234.5,97.7 235.1,98.6 235.7,99.4 236.4,100.0 237.0,100.6 237.6,101.0 238.3,101.4 238.9,101.7 239.5,102.1 240.2,102.3 240.8,102.7 241.4,102.9 242.0,103.3 242.7,103.5 243.3,103.7 243.9,104.1 244.6,104.0 245.2,104.1 245.8,104.3 246.5,104.0 247.1,103.3 247.7,103.4 248.3,104.0 249.0,104.6 249.6,104.9 250.2,104.4 250.9,103.9 251.5,103.9 252.1,103.9 252.8,103.9 253.4,104.6 254.0,105.6 254.6,105.9 255.3,105.6 255.9,105.3 256.5,105.2 257.2,105.8 257.8,105.8 258.4,104.9 259.1,104.9 259.7,106.7 260.3,106.8 260.9,105.7 261.6,105.3 262.2,105.2 262.8,105.4 263.5,105.5 264.1,105.7 264.7,105.1 265.4,105.4 266.0,105.7 266.6,105.6 267.2,105.5 267.9,105.6 268.5,105.7 269.1,106.6 269.8,106.9 270.4,105.7 271.0,105.3 271.7,106.2 272.3,106.9 272.9,106.3 273.5,105.8 274.2,105.7 274.8,105.9 275.4,106.1 276.1,105.7 276.7,106.2 277.3,107.4 277.9,106.5 278.6,106.2 279.2,106.4 279.8,106.3 280.5,107.2 281.1,106.2 281.7,105.7 282.4,107.1 283.0,107.2 283.6,106.6 284.2,106.6 284.9,106.5 285.5,107.0 286.1,107.2 286.8,106.5 287.4,106.0 288.0,106.2 288.7,106.9 289.3,107.9 289.9,106.8 290.6,106.4 291.2,107.4 291.8,106.8 292.4,106.4 293.1,106.4 293.7,107.0 294.3,107.1 295.0,105.7 295.6,104.5 296.2,105.6 296.9,106.5 297.5,107.2 298.1,107.4 298.7,106.3 299.4,106.5 300.0,106.0 300.6,105.5 301.3,106.0 301.9,107.7 302.5,108.3 303.1,106.7 303.8,106.7 304.4,107.8 305.0,107.9 305.7,106.3 306.3,105.8 306.9,106.1 307.6,106.3 308.2,106.0 308.8,107.4 309.4,108.7 310.1,106.5 310.7,105.4 311.3,106.2 312.0,106.9 312.6,107.9 313.2,107.9 313.9,107.1 314.5,107.4 315.1,106.7 315.8,105.7 316.4,106.5 317.0,106.6 317.6,106.5 318.3,106.8 318.9,107.0 319.5,106.0 320.2,106.4 320.8,107.7 321.4,106.5 322.1,105.9 322.7,107.2 323.3,108.2 323.9,107.4 324.6,107.4 325.2,107.6 325.8,107.4 326.5,107.1 327.1,106.5 327.7,107.2 328.4,107.3 329.0,106.6 329.6,106.8 330.2,106.9 330.9,106.0 331.5,106.7 332.1,107.3 332.8,106.6 333.4,107.3 334.0,106.4 334.6,106.4 335.3,106.6 335.9,105.9 336.5,106.6 337.2,106.3 337.8,105.4" fill="none" stroke="#1c5288" stroke-width="1.1" stroke-linejoin="round" />
<path d="M211.8,110.4 212.4,110.4 213.1,110.4 213.7,110.4 214.3,110.4 215.0,110.4 215.6,110.4 216.2,110.4 216.8,110.4 217.5,110.4 218.1,110.4 218.7,109.8 219.4,108.0 220.0,104.9 220.6,99.3 221.2,93.1 221.9,87.9 222.5,83.4 223.1,79.2 223.8,75.8 224.4,73.2 225.0,71.1 225.7,69.5 226.3,68.5 226.9,68.2 227.6,69.5 228.2,72.3 228.8,76.5 229.4,81.4 230.1,86.2 230.7,89.8 231.3,92.6 232.0,94.9 232.6,96.7 233.2,98.0 233.9,99.0 234.5,99.8 235.1,100.4 235.7,101.0 236.4,101.5 237.0,101.9 237.6,102.2 238.3,102.5 238.9,102.8 239.5,103.0 240.2,103.3 240.8,103.7 241.4,103.9 242.0,103.9 242.7,104.2 243.3,104.6 243.9,104.6 244.6,104.2 245.2,104.2 245.8,104.6 246.5,105.0 247.1,105.2 247.7,105.2 248.3,105.4 249.0,105.5 249.6,104.7 250.2,104.7 250.9,105.2 251.5,105.4 252.1,105.2 252.8,104.8 253.4,104.5 254.0,105.1 254.6,106.2 255.3,106.3 255.9,106.4 256.5,106.2 257.2,105.8 257.8,106.3 258.4,106.1 259.1,105.3 259.7,105.0 260.3,105.8 260.9,106.1 261.6,105.7 262.2,105.4 262.8,105.8 263.5,106.7 264.1,106.4 264.7,106.3 265.4,106.7 266.0,106.4 266.6,105.8 267.2,105.9 267.9,106.3 268.5,106.2 269.1,106.6 269.8,106.1 270.4,106.1 271.0,106.3 271.7,106.0 272.3,107.1 272.9,108.0 273.5,108.7 274.2,107.8 274.8,106.2 275.4,106.6 276.1,107.0 276.7,106.9 277.3,107.0 277.9,106.9 278.6,106.6 279.2,107.0 279.8,106.4 280.5,105.5 281.1,106.4 281.7,105.8 282.4,104.5 283.0,104.9 283.6,105.5 284.2,106.4 284.9,107.1 285.5,107.6 286.1,107.7 286.8,106.5 287.4,106.5 288.0,107.8 288.7,106.8 289.3,105.1 289.9,105.2 290.6,106.8 291.2,107.1 291.8,106.8 292.4,107.3 293.1,106.6 293.7,105.8 294.3,106.4 295.0,107.3 295.6,107.6 296.2,107.5 296.9,107.3 297.5,107.6 298.1,106.8 298.7,106.6 299.4,106.9 300.0,106.7 300.6,106.4 301.3,105.9 301.9,106.8 302.5,108.3 303.1,107.5 303.8,106.4 304.4,106.0 305.0,105.9 305.7,105.8 306.3,105.9 306.9,107.1 307.6,106.8 308.2,107.0 308.8,107.8 309.4,107.2 310.1,107.0 310.7,106.7 311.3,106.8 312.0,106.4 312.6,106.7 313.2,107.2 313.9,106.9 314.5,106.6 315.1,106.7 315.8,107.0 316.4,108.2 317.0,108.9 317.6,106.7 318.3,106.2 318.9,107.0 319.5,106.6 320.2,105.5 320.8,106.5 321.4,107.7 322.1,107.4 322.7,107.0 323.3,107.1 323.9,108.2 324.6,108.6 325.2,107.5 325.8,106.7 326.5,106.6 327.1,107.5 327.7,108.3 328.4,107.8 329.0,107.0 329.6,106.5 330.2,107.0 330.9,107.7 331.5,107.5 332.1,107.3 332.8,106.9 333.4,105.9 334.0,106.3 334.6,107.6 335.3,106.5 335.9,105.7 336.5,106.6 337.2,106.8 337.8,107.0" fill="none" stroke="#1c5288" stroke-width="1.0" stroke-linejoin="round" />
<path d="M211.8,110.4 212.4,110.4 213.1,110.4 213.7,110.4 214.3,110.4 215.0,110.4 215.6,110.4 216.2,110.4 216.8,110.4 217.5,110.4 218.1,110.4 218.7,110.4 219.4,110.4 220.0,110.4 220.6,109.9 221.2,108.2 221.9,105.3 222.5,100.3 223.1,94.6 223.8,89.9 224.4,85.7 225.0,81.9 225.7,78.8 226.3,76.4 226.9,74.5 227.6,73.0 228.2,72.1 228.8,71.8 229.4,73.0 230.1,75.6 230.7,79.4 231.3,83.8 232.0,88.2 232.6,91.5 233.2,94.0 233.9,96.2 234.5,97.8 235.1,98.9 235.7,99.8 236.4,100.6 237.0,101.2 237.6,101.6 238.3,102.0 238.9,102.4 239.5,102.7 240.2,103.1 240.8,103.4 241.4,103.7 242.0,104.0 242.7,104.0 243.3,104.1 243.9,104.2 244.6,104.3 245.2,104.7 245.8,105.1 246.5,105.2 247.1,105.1 247.7,105.0 248.3,105.6 249.0,105.3 249.6,105.2 250.2,105.7 250.9,105.7 251.5,105.9 252.1,105.5 252.8,105.5 253.4,106.4 254.0,106.5 254.6,106.4 255.3,106.8 255.9,106.0 256.5,104.8 257.2,105.9 257.8,105.8 258.4,104.3 259.1,105.7 259.7,106.4 260.3,105.9 260.9,105.8 261.6,107.1 262.2,107.2 262.8,106.0 263.5,106.1 264.1,105.5 264.7,106.9 265.4,107.4 266.0,106.3 266.6,106.0 267.2,105.5 267.9,105.4 268.5,106.4 269.1,106.4 269.8,106.4 270.4,106.4 271.0,106.2 271.7,106.7 272.3,106.5 272.9,107.2 273.5,107.5 274.2,107.3 274.8,106.7 275.4,105.6 276.1,106.7 276.7,108.4 277.3,107.6 277.9,106.9 278.6,107.4 279.2,106.1 279.8,105.9 280.5,107.5 281.1,107.4 281.7,106.8 282.4,105.9 283.0,106.0 283.6,107.3 284.2,107.7 284.9,106.2 285.5,106.9 286.1,107.8 286.8,106.4 287.4,106.2 288.0,106.9 288.7,107.5 289.3,107.3 289.9,106.6 290.6,106.6 291.2,106.4 291.8,106.4 292.4,106.3 293.1,106.3 293.7,106.5 294.3,106.7 295.0,106.4 295.6,105.6 296.2,106.1 296.9,107.2 297.5,107.4 298.1,108.4 298.7,108.6 299.4,107.2 300.0,107.4 300.6,107.4 301.3,106.7 301.9,105.9 302.5,106.2 303.1,107.9 303.8,109.0 304.4,108.3 305.0,106.8 305.7,106.2 306.3,106.6 306.9,107.4 307.6,107.8 308.2,107.6 308.8,107.2 309.4,106.8 310.1,106.8 310.7,106.2 311.3,106.2 312.0,106.9 312.6,106.5 313.2,106.3 313.9,107.1 314.5,108.3 315.1,108.6 315.8,107.7 316.4,106.8 317.0,106.8 317.6,106.7 318.3,106.2 318.9,107.0 319.5,106.4 320.2,104.8 320.8,105.6 321.4,107.0 322.1,107.2 322.7,107.8 323.3,107.9 323.9,107.6 324.6,107.7 325.2,107.5 325.8,106.4 326.5,106.7 327.1,107.5 327.7,107.3 328.4,106.7 329.0,106.0 329.6,107.5 330.2,108.5 330.9,107.6 331.5,107.5 332.1,107.4 332.8,107.0 333.4,107.8 334.0,108.0 334.6,107.2 335.3,107.1 335.9,107.3 336.5,107.1 337.2,107.2 337.8,106.7" fill="none" stroke="#1c5288" stroke-width="1.0" stroke-linejoin="round" />
<path d="M211.8,110.4 212.4,110.4 213.1,110.4 213.7,110.4 214.3,110.4 215.0,110.4 215.6,110.4 216.2,110.4 216.8,110.4 217.5,110.4 218.1,110.4 218.7,110.4 219.4,109.4 220.0,107.3 220.6,105.0 221.2,102.5 221.9,99.5 222.5,96.0 223.1,92.4 223.8,89.2 224.4,86.8 225.0,84.8 225.7,83.0 226.3,81.4 226.9,80.4 227.6,80.0 228.2,80.1 228.8,80.5 229.4,81.0 230.1,82.0 230.7,83.7 231.3,85.4 232.0,86.8 232.6,87.7 233.2,88.5 233.9,89.2 234.5,89.9 235.1,90.6 235.7,91.2 236.4,91.7 237.0,92.0 237.6,92.3 238.3,93.0 238.9,93.3 239.5,93.2 240.2,93.8 240.8,93.8 241.4,93.9 242.0,94.4 242.7,94.3 243.3,95.2 243.9,95.8 244.6,96.0 245.2,96.4 245.8,96.6 246.5,96.8 247.1,98.2 247.7,98.5 248.3,98.6 249.0,99.0 249.6,98.7 250.2,98.8 250.9,98.6 251.5,98.7 252.1,99.4 252.8,98.9 253.4,98.5 254.0,99.3 254.6,99.6 255.3,99.8 255.9,99.9 256.5,100.2 257.2,99.6 257.8,98.7 258.4,100.4 259.1,101.3 259.7,100.5 260.3,100.5 260.9,101.4 261.6,100.9 262.2,100.6 262.8,100.7 263.5,100.1 264.1,99.9 264.7,100.5 265.4,100.5 266.0,100.7 266.6,100.9 267.2,100.1 267.9,100.6 268.5,101.5 269.1,101.1 269.8,100.5 270.4,101.8 271.0,103.3 271.7,103.0 272.3,102.3 272.9,101.9 273.5,101.5 274.2,101.8 274.8,102.1 275.4,101.9 276.1,102.0 276.7,103.0 277.3,103.8 277.9,103.0 278.6,102.4 279.2,103.3 279.8,103.5 280.5,103.0 281.1,102.4 281.7,103.2 282.4,103.6 283.0,102.6 283.6,102.2 284.2,102.3 284.9,101.7 285.5,102.4 286.1,103.5 286.8,102.8 287.4,101.9 288.0,102.3 288.7,103.1 289.3,103.7 289.9,103.4 290.6,102.8 291.2,103.5 291.8,103.9 292.4,103.9 293.1,103.5 293.7,103.2 294.3,103.0 295.0,102.4 295.6,102.8 296.2,102.9 296.9,102.7 297.5,102.6 298.1,103.2 298.7,103.6 299.4,102.7 300.0,102.7 300.6,103.7 301.3,103.9 301.9,102.8 302.5,103.1 303.1,104.3 303.8,103.8 304.4,103.7 305.0,104.7 305.7,105.3 306.3,104.7 306.9,104.3 307.6,103.7 308.2,103.8 308.8,104.9 309.4,105.0 310.1,105.0 310.7,104.2 311.3,104.1 312.0,104.0 312.6,103.5 313.2,103.3 313.9,103.6 314.5,104.1 315.1,104.9 315.8,105.4 316.4,104.9 317.0,104.3 317.6,104.1 318.3,104.3 318.9,104.6 319.5,105.4 320.2,105.1 320.8,104.1 321.4,104.1 322.1,104.0 322.7,104.2 323.3,105.0 323.9,105.0 324.6,105.0 325.2,105.1 325.8,105.1 326.5,105.2 327.1,105.6 327.7,104.6 328.4,103.9 329.0,104.6 329.6,105.2 330.2,105.8 330.9,105.3 331.5,105.0 332.1,104.4 332.8,104.9 333.4,105.5 334.0,104.4 334.6,104.7 335.3,104.4 335.9,103.8 336.5,104.2 337.2,105.0 337.8,105.0" fill="none" stroke="#1c5288" stroke-width="0.9" stroke-linejoin="round" />
<line x1="39.9" y1="24" x2="39.9" y2="111" stroke="#2e2e2e" stroke-width="1.25" />
<line x1="39.3" y1="110.5" x2="166.5" y2="110.5" stroke="#2e2e2e" stroke-width="1.2" />
<line x1="37" y1="110.5" x2="40" y2="110.5" stroke="#2e2e2e" stroke-width="0.9" />
<text x="34.0" y="112.9" font-size="8.6" text-anchor="end" fill="#2e2e2e" stroke="#2e2e2e" stroke-width="0.18" textLength="4.0" lengthAdjust="spacingAndGlyphs" >0</text>
<line x1="37" y1="96.5" x2="40" y2="96.5" stroke="#2e2e2e" stroke-width="0.9" />
<text x="34.0" y="98.9" font-size="8.6" text-anchor="end" fill="#2e2e2e" stroke="#2e2e2e" stroke-width="0.18" textLength="8.0" lengthAdjust="spacingAndGlyphs" >30</text>
<line x1="37" y1="82.5" x2="40" y2="82.5" stroke="#2e2e2e" stroke-width="0.9" />
<text x="34.0" y="84.9" font-size="8.6" text-anchor="end" fill="#2e2e2e" stroke="#2e2e2e" stroke-width="0.18" textLength="8.0" lengthAdjust="spacingAndGlyphs" >60</text>
<line x1="37" y1="68.5" x2="40" y2="68.5" stroke="#2e2e2e" stroke-width="0.9" />
<text x="34.0" y="70.9" font-size="8.6" text-anchor="end" fill="#2e2e2e" stroke="#2e2e2e" stroke-width="0.18" textLength="8.0" lengthAdjust="spacingAndGlyphs" >90</text>
<line x1="37" y1="54.5" x2="40" y2="54.5" stroke="#2e2e2e" stroke-width="0.9" />
<text x="34.0" y="56.9" font-size="8.6" text-anchor="end" fill="#2e2e2e" stroke="#2e2e2e" stroke-width="0.18" textLength="12.0" lengthAdjust="spacingAndGlyphs" >120</text>
<line x1="37" y1="40.5" x2="40" y2="40.5" stroke="#2e2e2e" stroke-width="0.9" />
<text x="34.0" y="42.9" font-size="8.6" text-anchor="end" fill="#2e2e2e" stroke="#2e2e2e" stroke-width="0.18" textLength="12.0" lengthAdjust="spacingAndGlyphs" >150</text>
<line x1="37" y1="26.5" x2="40" y2="26.5" stroke="#2e2e2e" stroke-width="0.9" />
<text x="34.0" y="28.9" font-size="8.6" text-anchor="end" fill="#2e2e2e" stroke="#2e2e2e" stroke-width="0.18" textLength="12.0" lengthAdjust="spacingAndGlyphs" >180</text>
<line x1="40.0" y1="110.5" x2="40.0" y2="113.5" stroke="#2e2e2e" stroke-width="0.9" />
<text x="40.2" y="122.9" font-size="8.6" text-anchor="middle" fill="#2e2e2e" stroke="#2e2e2e" stroke-width="0.18" textLength="4.0" lengthAdjust="spacingAndGlyphs" >0</text>
<line x1="71.25" y1="110.5" x2="71.25" y2="113.5" stroke="#2e2e2e" stroke-width="0.9" />
<text x="71.45" y="122.9" font-size="8.6" text-anchor="middle" fill="#2e2e2e" stroke="#2e2e2e" stroke-width="0.18" textLength="8.0" lengthAdjust="spacingAndGlyphs" >10</text>
<line x1="102.5" y1="110.5" x2="102.5" y2="113.5" stroke="#2e2e2e" stroke-width="0.9" />
<text x="102.7" y="122.9" font-size="8.6" text-anchor="middle" fill="#2e2e2e" stroke="#2e2e2e" stroke-width="0.18" textLength="8.0" lengthAdjust="spacingAndGlyphs" >20</text>
<line x1="133.75" y1="110.5" x2="133.75" y2="113.5" stroke="#2e2e2e" stroke-width="0.9" />
<text x="133.95" y="122.9" font-size="8.6" text-anchor="middle" fill="#2e2e2e" stroke="#2e2e2e" stroke-width="0.18" textLength="8.0" lengthAdjust="spacingAndGlyphs" >30</text>
<line x1="165.0" y1="110.5" x2="165.0" y2="113.5" stroke="#2e2e2e" stroke-width="0.9" />
<text x="165.2" y="122.9" font-size="8.6" text-anchor="middle" fill="#2e2e2e" stroke="#2e2e2e" stroke-width="0.18" textLength="8.0" lengthAdjust="spacingAndGlyphs" >40</text>
<text x="7.3" y="16.3" font-size="10.4" text-anchor="start" fill="#000" font-weight="bold" stroke="#000" stroke-width="0.25">A</text>
<text x="129.6" y="37.8" font-size="9.0" text-anchor="start" fill="#2e2e2e" stroke="#2e2e2e" stroke-width="0.18" textLength="31.4" lengthAdjust="spacingAndGlyphs" >24 hours</text>
<text x="14.8" y="88.6" font-size="9.0" text-anchor="start" fill="#2e2e2e" stroke="#2e2e2e" stroke-width="0.18" textLength="45.2" lengthAdjust="spacingAndGlyphs" transform="rotate(-90 14.8 88.6)" >Plasmin (nM)</text>
<text x="79.2" y="135.6" font-size="9.0" text-anchor="start" fill="#2e2e2e" stroke="#2e2e2e" stroke-width="0.18" textLength="50.6" lengthAdjust="spacingAndGlyphs" >Time (minutes)</text>
<line x1="211.9" y1="24" x2="211.9" y2="111" stroke="#2e2e2e" stroke-width="1.25" />
<line x1="211.3" y1="110.4" x2="338" y2="110.4" stroke="#2e2e2e" stroke-width="1.2" />
<line x1="209" y1="110.4" x2="211.6" y2="110.4" stroke="#2e2e2e" stroke-width="0.9" />
<text x="206.1" y="112.80000000000001" font-size="8.6" text-anchor="end" fill="#2e2e2e" stroke="#2e2e2e" stroke-width="0.18" textLength="4.0" lengthAdjust="spacingAndGlyphs" >0</text>
<line x1="209" y1="89.4" x2="211.6" y2="89.4" stroke="#2e2e2e" stroke-width="0.9" />
<text x="206.1" y="91.80000000000001" font-size="8.6" text-anchor="end" fill="#2e2e2e" stroke="#2e2e2e" stroke-width="0.18" textLength="8.0" lengthAdjust="spacingAndGlyphs" >40</text>
<line x1="209" y1="68.4" x2="211.6" y2="68.4" stroke="#2e2e2e" stroke-width="0.9" />
<text x="206.1" y="70.80000000000001" font-size="8.6" text-anchor="end" fill="#2e2e2e" stroke="#2e2e2e" stroke-width="0.18" textLength="8.0" lengthAdjust="spacingAndGlyphs" >80</text>
<line x1="209" y1="47.400000000000006" x2="211.6" y2="47.400000000000006" stroke="#2e2e2e" stroke-width="0.9" />
<text x="206.1" y="49.800000000000004" font-size="8.6" text-anchor="end" fill="#2e2e2e" stroke="#2e2e2e" stroke-width="0.18" textLength="12.0" lengthAdjust="spacingAndGlyphs" >120</text>
<line x1="209" y1="26.400000000000006" x2="211.6" y2="26.400000000000006" stroke="#2e2e2e" stroke-width="0.9" />
<text x="206.1" y="28.800000000000004" font-size="8.6" text-anchor="end" fill="#2e2e2e" stroke="#2e2e2e" stroke-width="0.18" textLength="12.0" lengthAdjust="spacingAndGlyphs" >160</text>
<line x1="211.8" y1="110.4" x2="211.8" y2="113.4" stroke="#2e2e2e" stroke-width="0.9" />
<text x="212.0" y="122.9" font-size="8.6" text-anchor="middle" fill="#2e2e2e" stroke="#2e2e2e" stroke-width="0.18" textLength="4.0" lengthAdjust="spacingAndGlyphs" >0</text>
<line x1="243.3" y1="110.4" x2="243.3" y2="113.4" stroke="#2e2e2e" stroke-width="0.9" />
<text x="243.5" y="122.9" font-size="8.6" text-anchor="middle" fill="#2e2e2e" stroke="#2e2e2e" stroke-width="0.18" textLength="8.0" lengthAdjust="spacingAndGlyphs" >10</text>
<line x1="274.8" y1="110.4" x2="274.8" y2="113.4" stroke="#2e2e2e" stroke-width="0.9" />
<text x="275.0" y="122.9" font-size="8.6" text-anchor="middle" fill="#2e2e2e" stroke="#2e2e2e" stroke-width="0.18" textLength="8.0" lengthAdjust="spacingAndGlyphs" >20</text>
<line x1="306.3" y1="110.4" x2="306.3" y2="113.4" stroke="#2e2e2e" stroke-width="0.9" />
<text x="306.5" y="122.9" font-size="8.6" text-anchor="middle" fill="#2e2e2e" stroke="#2e2e2e" stroke-width="0.18" textLength="8.0" lengthAdjust="spacingAndGlyphs" >30</text>
<line x1="337.8" y1="110.4" x2="337.8" y2="113.4" stroke="#2e2e2e" stroke-width="0.9" />
<text x="338.0" y="122.9" font-size="8.6" text-anchor="middle" fill="#2e2e2e" stroke="#2e2e2e" stroke-width="0.18" textLength="8.0" lengthAdjust="spacingAndGlyphs" >40</text>
<text x="179.1" y="16" font-size="10.4" text-anchor="start" fill="#000" font-weight="bold" stroke="#000" stroke-width="0.25">B</text>
<text x="301" y="37.8" font-size="9.0" text-anchor="start" fill="#2e2e2e" stroke="#2e2e2e" stroke-width="0.18" textLength="26.4" lengthAdjust="spacingAndGlyphs" >6 hours</text>
<text x="186.6" y="88.6" font-size="9.0" text-anchor="start" fill="#2e2e2e" stroke="#2e2e2e" stroke-width="0.18" textLength="45.2" lengthAdjust="spacingAndGlyphs" transform="rotate(-90 186.6 88.6)" >Plasmin (nM)</text>
<text x="251.2" y="135.6" font-size="9.0" text-anchor="start" fill="#2e2e2e" stroke="#2e2e2e" stroke-width="0.18" textLength="50.6" lengthAdjust="spacingAndGlyphs" >Time (minutes)</text>
<line x1="384.8" y1="24.5" x2="384.8" y2="51" stroke="#2e2e2e" stroke-width="1.25" />
<line x1="382.8" y1="51" x2="385.8" y2="51" stroke="#2e2e2e" stroke-width="0.9" />
<line x1="384.8" y1="56.5" x2="384.8" y2="110.5" stroke="#2e2e2e" stroke-width="1.25" />
<line x1="382.8" y1="56.5" x2="385.8" y2="56.5" stroke="#2e2e2e" stroke-width="0.9" />
<line x1="384.2" y1="110.3" x2="513" y2="110.3" stroke="#2e2e2e" stroke-width="1.3" />
<line x1="381.8" y1="27.6" x2="384.8" y2="27.6" stroke="#2e2e2e" stroke-width="0.9" />
<text x="379.2" y="30.6" font-size="8.6" text-anchor="end" fill="#2e2e2e" stroke="#2e2e2e" stroke-width="0.18" textLength="12.0" lengthAdjust="spacingAndGlyphs" >200</text>
<line x1="381.8" y1="43" x2="384.8" y2="43" stroke="#2e2e2e" stroke-width="0.9" />
<text x="379.2" y="46.0" font-size="8.6" text-anchor="end" fill="#2e2e2e" stroke="#2e2e2e" stroke-width="0.18" textLength="12.0" lengthAdjust="spacingAndGlyphs" >100</text>
<line x1="381.8" y1="110.3" x2="384.8" y2="110.3" stroke="#2e2e2e" stroke-width="0.9" />
<text x="379.2" y="113.3" font-size="8.6" text-anchor="end" fill="#2e2e2e" stroke="#2e2e2e" stroke-width="0.18" textLength="4.0" lengthAdjust="spacingAndGlyphs" >0</text>
<line x1="381.8" y1="96.95" x2="384.8" y2="96.95" stroke="#2e2e2e" stroke-width="0.9" />
<text x="379.2" y="99.95" font-size="8.6" text-anchor="end" fill="#2e2e2e" stroke="#2e2e2e" stroke-width="0.18" textLength="4.0" lengthAdjust="spacingAndGlyphs" >5</text>
<line x1="381.8" y1="83.6" x2="384.8" y2="83.6" stroke="#2e2e2e" stroke-width="0.9" />
<text x="379.2" y="86.6" font-size="8.6" text-anchor="end" fill="#2e2e2e" stroke="#2e2e2e" stroke-width="0.18" textLength="8.0" lengthAdjust="spacingAndGlyphs" >10</text>
<line x1="381.8" y1="70.25" x2="384.8" y2="70.25" stroke="#2e2e2e" stroke-width="0.9" />
<text x="379.2" y="73.25" font-size="8.6" text-anchor="end" fill="#2e2e2e" stroke="#2e2e2e" stroke-width="0.18" textLength="8.0" lengthAdjust="spacingAndGlyphs" >15</text>
<line x1="381.8" y1="56.9" x2="384.8" y2="56.9" stroke="#2e2e2e" stroke-width="0.9" />
<text x="379.2" y="59.9" font-size="8.6" text-anchor="end" fill="#2e2e2e" stroke="#2e2e2e" stroke-width="0.18" textLength="8.0" lengthAdjust="spacingAndGlyphs" >20</text>
<line x1="409.5" y1="110" x2="409.5" y2="113" stroke="#2e2e2e" stroke-width="0.9" />
<line x1="446.6" y1="110" x2="446.6" y2="113" stroke="#2e2e2e" stroke-width="0.9" />
<line x1="484" y1="110" x2="484" y2="113" stroke="#2e2e2e" stroke-width="0.9" />
<text x="351.1" y="16.5" font-size="10.4" text-anchor="start" fill="#000" font-weight="bold" stroke="#000" stroke-width="0.25">C</text>
<text x="359.3" y="65.7" font-size="9.0" text-anchor="middle" fill="#2e2e2e" stroke="#2e2e2e" stroke-width="0.18" textLength="40.2" lengthAdjust="spacingAndGlyphs" transform="rotate(-90 359.3 65.7)" >TXA (µg/mL)</text>
<text x="409.5" y="123.5" font-size="9.0" text-anchor="middle" fill="#2e2e2e" stroke="#2e2e2e" stroke-width="0.18" textLength="21.6" lengthAdjust="spacingAndGlyphs" >Saline</text>
<text x="447.1" y="123.5" font-size="9.0" text-anchor="middle" fill="#2e2e2e" stroke="#2e2e2e" stroke-width="0.18" textLength="26.8" lengthAdjust="spacingAndGlyphs" >6 hours</text>
<text x="484.6" y="123.5" font-size="9.0" text-anchor="middle" fill="#2e2e2e" stroke="#2e2e2e" stroke-width="0.18" textLength="31" lengthAdjust="spacingAndGlyphs" >12 hours</text>
<rect x="434.6" y="66" width="24.4" height="44" fill="#c5c6c9"/>
<rect x="471.6" y="96" width="24.8" height="14" fill="#c5c6c9"/>
<line x1="409.5" y1="32.5" x2="446.8" y2="32.5" stroke="#2a2a2a" stroke-width="1" />
<text x="428.3" y="32.4" font-size="7.4" text-anchor="middle" fill="#2e2e2e" stroke="#2e2e2e" stroke-width="0.18" >**</text>
<line x1="446.6" y1="37.5" x2="446.6" y2="51" stroke="#3a3a3a" stroke-width="1.2" />
<line x1="442.6" y1="37.5" x2="451" y2="37.5" stroke="#3a3a3a" stroke-width="1.2" />
<line x1="446.6" y1="56.5" x2="446.6" y2="82" stroke="#3a3a3a" stroke-width="1.2" />
<line x1="442.6" y1="82" x2="451" y2="82" stroke="#3a3a3a" stroke-width="1.2" />
<line x1="484" y1="89.6" x2="484" y2="105.6" stroke="#3a3a3a" stroke-width="1.2" />
<line x1="480" y1="89.6" x2="488" y2="89.6" stroke="#3a3a3a" stroke-width="1.2" />
<line x1="480" y1="105.6" x2="488" y2="105.6" stroke="#3a3a3a" stroke-width="1.2" />
<circle cx="401.4" cy="110" r="2.15" fill="#1b4a7a"/>
<circle cx="409.5" cy="110" r="2.15" fill="#1b4a7a"/>
<circle cx="417.8" cy="110" r="2.15" fill="#1b4a7a"/>
<circle cx="442.8" cy="35.9" r="2.15" fill="#ad1039"/>
<circle cx="451" cy="37.4" r="2.15" fill="#ad1039"/>
<circle cx="446.6" cy="48" r="2.15" fill="#ad1039"/>
<circle cx="442.6" cy="68.4" r="2.15" fill="#ad1039"/>
<circle cx="451" cy="65.6" r="2.15" fill="#ad1039"/>
<circle cx="442.6" cy="82" r="2.15" fill="#ad1039"/>
<circle cx="451" cy="82" r="2.15" fill="#ad1039"/>
<circle cx="479.6" cy="90.6" r="2.15" fill="#ad1039"/>
<circle cx="488" cy="86.6" r="2.15" fill="#ad1039"/>
<circle cx="488" cy="93.6" r="2.15" fill="#ad1039"/>
<circle cx="484" cy="98.4" r="2.15" fill="#ad1039"/>
<circle cx="479.6" cy="107" r="2.15" fill="#ad1039"/>
<circle cx="488" cy="105" r="2.15" fill="#ad1039"/>
<line x1="39.9" y1="166" x2="39.9" y2="252.5" stroke="#2e2e2e" stroke-width="1.25" />
<line x1="39.3" y1="252.3" x2="99" y2="252.3" stroke="#2e2e2e" stroke-width="1.2" />
<line x1="99" y1="250.8" x2="99" y2="253.6" stroke="#2e2e2e" stroke-width="0.9" />
<line x1="104.2" y1="252.3" x2="166.5" y2="252.3" stroke="#2e2e2e" stroke-width="1.2" />
<line x1="104.2" y1="250.8" x2="104.2" y2="253.6" stroke="#2e2e2e" stroke-width="0.9" />
<line x1="37" y1="252.2" x2="40" y2="252.2" stroke="#2e2e2e" stroke-width="0.9" />
<text x="34.0" y="254.6" font-size="8.6" text-anchor="end" fill="#2e2e2e" stroke="#2e2e2e" stroke-width="0.18" textLength="4.0" lengthAdjust="spacingAndGlyphs" >0</text>
<line x1="37" y1="224.2" x2="40" y2="224.2" stroke="#2e2e2e" stroke-width="0.9" />
<text x="34.0" y="226.6" font-size="8.6" text-anchor="end" fill="#2e2e2e" stroke="#2e2e2e" stroke-width="0.18" textLength="8.0" lengthAdjust="spacingAndGlyphs" >50</text>
<line x1="37" y1="196.2" x2="40" y2="196.2" stroke="#2e2e2e" stroke-width="0.9" />
<text x="34.0" y="198.6" font-size="8.6" text-anchor="end" fill="#2e2e2e" stroke="#2e2e2e" stroke-width="0.18" textLength="12.0" lengthAdjust="spacingAndGlyphs" >100</text>
<line x1="37" y1="168.2" x2="40" y2="168.2" stroke="#2e2e2e" stroke-width="0.9" />
<text x="34.0" y="170.6" font-size="8.6" text-anchor="end" fill="#2e2e2e" stroke="#2e2e2e" stroke-width="0.18" textLength="12.0" lengthAdjust="spacingAndGlyphs" >150</text>
<line x1="40.0" y1="252.3" x2="40.0" y2="255.3" stroke="#2e2e2e" stroke-width="0.9" />
<text x="40.2" y="265.7" font-size="8.6" text-anchor="middle" fill="#2e2e2e" stroke="#2e2e2e" stroke-width="0.18" textLength="4.0" lengthAdjust="spacingAndGlyphs" >0</text>
<line x1="59.4" y1="252.3" x2="59.4" y2="255.3" stroke="#2e2e2e" stroke-width="0.9" />
<text x="59.6" y="265.7" font-size="8.6" text-anchor="middle" fill="#2e2e2e" stroke="#2e2e2e" stroke-width="0.18" textLength="8.0" lengthAdjust="spacingAndGlyphs" >10</text>
<line x1="78.8" y1="252.3" x2="78.8" y2="255.3" stroke="#2e2e2e" stroke-width="0.9" />
<text x="79.0" y="265.7" font-size="8.6" text-anchor="middle" fill="#2e2e2e" stroke="#2e2e2e" stroke-width="0.18" textLength="8.0" lengthAdjust="spacingAndGlyphs" >20</text>
<line x1="98.19999999999999" y1="252.3" x2="98.19999999999999" y2="255.3" stroke="#2e2e2e" stroke-width="0.9" />
<text x="98.39999999999999" y="265.7" font-size="8.6" text-anchor="middle" fill="#2e2e2e" stroke="#2e2e2e" stroke-width="0.18" textLength="8.0" lengthAdjust="spacingAndGlyphs" >30</text>
<line x1="110.8" y1="252.3" x2="110.8" y2="255.3" stroke="#2e2e2e" stroke-width="0.9" />
<text x="111.0" y="265.7" font-size="8.6" text-anchor="middle" fill="#2e2e2e" stroke="#2e2e2e" stroke-width="0.18" textLength="8.0" lengthAdjust="spacingAndGlyphs" >60</text>
<line x1="129.26666666666665" y1="252.3" x2="129.26666666666665" y2="255.3" stroke="#2e2e2e" stroke-width="0.9" />
<text x="129.46666666666664" y="265.7" font-size="8.6" text-anchor="middle" fill="#2e2e2e" stroke="#2e2e2e" stroke-width="0.18" textLength="8.0" lengthAdjust="spacingAndGlyphs" >90</text>
<line x1="147.73333333333332" y1="252.3" x2="147.73333333333332" y2="255.3" stroke="#2e2e2e" stroke-width="0.9" />
<text x="147.9333333333333" y="265.7" font-size="8.6" text-anchor="middle" fill="#2e2e2e" stroke="#2e2e2e" stroke-width="0.18" textLength="12.0" lengthAdjust="spacingAndGlyphs" >120</text>
<line x1="166.2" y1="252.3" x2="166.2" y2="255.3" stroke="#2e2e2e" stroke-width="0.9" />
<text x="166.39999999999998" y="265.7" font-size="8.6" text-anchor="middle" fill="#2e2e2e" stroke="#2e2e2e" stroke-width="0.18" textLength="12.0" lengthAdjust="spacingAndGlyphs" >150</text>
<text x="7.6" y="157.5" font-size="10.4" text-anchor="start" fill="#000" font-weight="bold" stroke="#000" stroke-width="0.25">D</text>
<text x="14.8" y="241.3" font-size="9.0" text-anchor="start" fill="#2e2e2e" stroke="#2e2e2e" stroke-width="0.18" textLength="65.5" lengthAdjust="spacingAndGlyphs" transform="rotate(-90 14.8 241.3)" >Plasmin peak (nM)</text>
<text x="83.3" y="279.6" font-size="9.0" text-anchor="start" fill="#2e2e2e" stroke="#2e2e2e" stroke-width="0.18" textLength="41.6" lengthAdjust="spacingAndGlyphs" >TXA (µg/mL)</text>
<text x="52.4" y="179.2" font-size="7.8" text-anchor="start" fill="#2e2e2e" stroke="#2e2e2e" stroke-width="0.18" textLength="31.6" lengthAdjust="spacingAndGlyphs" >r = –0.87</text>
<text x="52.4" y="188.6" font-size="7.8" text-anchor="start" fill="#2e2e2e" stroke="#2e2e2e" stroke-width="0.18" textLength="29.6" lengthAdjust="spacingAndGlyphs" ><tspan font-style="italic">P</tspan> &lt; .001</text>
<path d="M40.4,167.2 40.7,172.1 40.9,176.5 41.1,180.3 41.3,183.7 41.6,186.7 41.8,189.5 42.0,192.0 42.2,194.2 42.4,196.3 42.7,198.2 42.9,200.0 43.1,201.6 43.3,203.1 43.6,204.5 43.8,205.8 44.0,207.1 44.2,208.2 44.5,209.3 44.7,210.3 44.9,211.3 45.1,212.2 45.4,213.0 45.6,213.8 45.8,214.6 46.2,215.8 48.0,220.5 49.8,223.8 51.6,226.4 53.5,228.4 55.3,230.0 57.1,231.3 58.9,232.4 60.7,233.4 62.5,234.2 64.3,234.9 66.1,235.5 68.0,236.1 69.8,236.6 71.6,237.0 73.4,237.4 75.2,237.8 77.0,238.1 78.8,238.5 80.7,238.7 82.5,239.0 84.3,239.2 86.1,239.5 87.9,239.7 89.7,239.9 91.5,240.1 93.3,240.2 95.2,240.4 97.0,240.6 98.8,240.7" fill="none" stroke="#cc1238" stroke-width="1.15" stroke-linejoin="round" />
<path d="M104.3,242.5 106.4,242.7 108.5,242.9 110.5,243.1 112.6,243.2 114.7,243.3 116.8,243.5 118.8,243.6 120.9,243.7 123.0,243.7 125.0,243.8 127.1,243.9 129.2,244.0 131.2,244.0 133.3,244.1 135.4,244.2 137.4,244.2 139.5,244.3 141.6,244.3 143.7,244.4 145.7,244.4 147.8,244.4 149.9,244.5 151.9,244.5 154.0,244.6 156.1,244.6 158.1,244.6 160.2,244.7 162.3,244.7 164.4,244.7" fill="none" stroke="#cc1238" stroke-width="1.15" stroke-linejoin="round" />
<circle cx="40" cy="172.3" r="2.15" fill="#1b4a7a"/>
<circle cx="40" cy="199.2" r="2.15" fill="#1b4a7a"/>
<circle cx="40" cy="211.6" r="2.15" fill="#1b4a7a"/>
<circle cx="41.7" cy="194.7" r="2.15" fill="#ad1039"/>
<circle cx="43.8" cy="204.5" r="2.15" fill="#ad1039"/>
<circle cx="48.3" cy="226.7" r="2.15" fill="#ad1039"/>
<circle cx="52" cy="230" r="2.15" fill="#ad1039"/>
<circle cx="54.2" cy="233.4" r="2.15" fill="#ad1039"/>
<circle cx="57.2" cy="221.5" r="2.15" fill="#ad1039"/>
<circle cx="60.5" cy="239.8" r="2.15" fill="#ad1039"/>
<circle cx="60.5" cy="241.8" r="2.15" fill="#ad1039"/>
<circle cx="70.5" cy="229.5" r="2.15" fill="#ad1039"/>
<circle cx="72.3" cy="238.6" r="2.15" fill="#ad1039"/>
<circle cx="116.6" cy="237.4" r="2.15" fill="#ad1039"/>
<circle cx="159" cy="241" r="2.15" fill="#ad1039"/>
<circle cx="165" cy="246" r="2.15" fill="#ad1039"/>
<line x1="211.9" y1="166" x2="211.9" y2="252.5" stroke="#2e2e2e" stroke-width="1.25" />
<line x1="211.3" y1="252.4" x2="338" y2="252.4" stroke="#2e2e2e" stroke-width="1.2" />
<line x1="208.9" y1="252.3" x2="211.9" y2="252.3" stroke="#2e2e2e" stroke-width="0.9" />
<text x="206.6" y="254.70000000000002" font-size="8.6" text-anchor="end" fill="#2e2e2e" stroke="#2e2e2e" stroke-width="0.18" textLength="4.0" lengthAdjust="spacingAndGlyphs" >0</text>
<line x1="208.9" y1="224.45000000000002" x2="211.9" y2="224.45000000000002" stroke="#2e2e2e" stroke-width="0.9" />
<text x="206.6" y="226.85000000000002" font-size="8.6" text-anchor="end" fill="#2e2e2e" stroke="#2e2e2e" stroke-width="0.18" textLength="4.0" lengthAdjust="spacingAndGlyphs" >1</text>
<line x1="208.9" y1="196.60000000000002" x2="211.9" y2="196.60000000000002" stroke="#2e2e2e" stroke-width="0.9" />
<text x="206.6" y="199.00000000000003" font-size="8.6" text-anchor="end" fill="#2e2e2e" stroke="#2e2e2e" stroke-width="0.18" textLength="4.0" lengthAdjust="spacingAndGlyphs" >2</text>
<line x1="208.9" y1="168.75" x2="211.9" y2="168.75" stroke="#2e2e2e" stroke-width="0.9" />
<text x="206.6" y="171.15" font-size="8.6" text-anchor="end" fill="#2e2e2e" stroke="#2e2e2e" stroke-width="0.18" textLength="4.0" lengthAdjust="spacingAndGlyphs" >3</text>
<text x="187.7" y="157.7" font-size="10.4" text-anchor="start" fill="#000" font-weight="bold" stroke="#000" stroke-width="0.25">E</text>
<text x="195.2" y="207.6" font-size="9.0" text-anchor="middle" fill="#2e2e2e" stroke="#2e2e2e" stroke-width="0.18" textLength="40.5" lengthAdjust="spacingAndGlyphs" transform="rotate(-90 195.2 207.6)" >FDP (µg/mL)</text>
<line x1="241.1" y1="162" x2="241.1" y2="252" stroke="#8a8a8a" stroke-width="1.1" stroke-dasharray="1 1"/>
<rect x="219.8" y="247.2" width="17.3" height="5.2" fill="#c5c6c9"/>
<rect x="245.4" y="244" width="16.8" height="8.4" fill="#c5c6c9"/>
<rect x="266.6" y="249.4" width="16" height="3" fill="#c5c6c9"/>
<rect x="291.5" y="214.2" width="17.1" height="38.2" fill="#c5c6c9"/>
<rect x="312.2" y="247.4" width="14.5" height="5" fill="#c5c6c9"/>
<line x1="253.8" y1="178.5" x2="297.7" y2="178.5" stroke="#2a2a2a" stroke-width="1" />
<text x="275.8" y="178.0" font-size="7.4" text-anchor="middle" fill="#2e2e2e" stroke="#2e2e2e" stroke-width="0.18" >**</text>
<line x1="301.5" y1="178.5" x2="320.8" y2="178.5" stroke="#2a2a2a" stroke-width="1" />
<text x="311.2" y="178.0" font-size="7.4" text-anchor="middle" fill="#2e2e2e" stroke="#2e2e2e" stroke-width="0.18" >***</text>
<line x1="228.3" y1="242.1" x2="228.3" y2="252.4" stroke="#3a3a3a" stroke-width="1.2" />
<line x1="224.20000000000002" y1="242.1" x2="232.4" y2="242.1" stroke="#3a3a3a" stroke-width="1.2" />
<line x1="253.8" y1="233.4" x2="253.8" y2="252.4" stroke="#3a3a3a" stroke-width="1.2" />
<line x1="250.15" y1="233.4" x2="257.45" y2="233.4" stroke="#3a3a3a" stroke-width="1.2" />
<line x1="274.7" y1="242.1" x2="274.7" y2="252.4" stroke="#3a3a3a" stroke-width="1.2" />
<line x1="270.9" y1="242.1" x2="278.5" y2="242.1" stroke="#3a3a3a" stroke-width="1.2" />
<line x1="299.8" y1="193.6" x2="299.8" y2="234.1" stroke="#3a3a3a" stroke-width="1.2" />
<line x1="295.75" y1="193.6" x2="303.85" y2="193.6" stroke="#3a3a3a" stroke-width="1.2" />
<line x1="320.9" y1="239.9" x2="320.9" y2="252.4" stroke="#3a3a3a" stroke-width="1.2" />
<line x1="316.75" y1="239.9" x2="325.04999999999995" y2="239.9" stroke="#3a3a3a" stroke-width="1.2" />
<line x1="296.5" y1="234.1" x2="302.8" y2="234.1" stroke="#3a3a3a" stroke-width="1.2" />
<line x1="228.3" y1="252.4" x2="228.3" y2="255.2" stroke="#2e2e2e" stroke-width="0.9" />
<line x1="253.8" y1="252.4" x2="253.8" y2="255.2" stroke="#2e2e2e" stroke-width="0.9" />
<line x1="274.7" y1="252.4" x2="274.7" y2="255.2" stroke="#2e2e2e" stroke-width="0.9" />
<line x1="299.8" y1="252.4" x2="299.8" y2="255.2" stroke="#2e2e2e" stroke-width="0.9" />
<line x1="320.9" y1="252.4" x2="320.9" y2="255.2" stroke="#2e2e2e" stroke-width="0.9" />
<circle cx="228.3" cy="242.1" r="2.15" fill="#1b4a7a"/>
<circle cx="228.3" cy="247.2" r="2.15" fill="#1b4a7a"/>
<circle cx="228.3" cy="252.6" r="2.15" fill="#1b4a7a"/>
<circle cx="247.6" cy="239.2" r="2.15" fill="#1b4a7a"/>
<circle cx="253.8" cy="227.5" r="2.15" fill="#1b4a7a"/>
<circle cx="253.8" cy="240.2" r="2.15" fill="#1b4a7a"/>
<circle cx="247.6" cy="252.6" r="2.15" fill="#1b4a7a"/>
<circle cx="253.8" cy="252.6" r="2.15" fill="#1b4a7a"/>
<circle cx="299.8" cy="187.9" r="2.15" fill="#1b4a7a"/>
<circle cx="299.8" cy="196" r="2.15" fill="#1b4a7a"/>
<circle cx="299.8" cy="201.9" r="2.15" fill="#1b4a7a"/>
<circle cx="299.8" cy="211.5" r="2.15" fill="#1b4a7a"/>
<circle cx="299.8" cy="224.1" r="2.15" fill="#1b4a7a"/>
<circle cx="299.8" cy="234.1" r="2.15" fill="#1b4a7a"/>
<circle cx="299.8" cy="242.9" r="2.15" fill="#1b4a7a"/>
<circle cx="260" cy="252.6" r="2.15" fill="#1d5a66"/>
<circle cx="268.4" cy="252.6" r="2.15" fill="#ad1039"/>
<circle cx="274.7" cy="252.6" r="2.15" fill="#ad1039"/>
<circle cx="281" cy="252.6" r="2.15" fill="#ad1039"/>
<circle cx="274.7" cy="238.9" r="2.15" fill="#ad1039"/>
<circle cx="314.2" cy="252.6" r="2.15" fill="#ad1039"/>
<circle cx="320.9" cy="250.9" r="2.15" fill="#ad1039"/>
<circle cx="327.2" cy="252.6" r="2.15" fill="#ad1039"/>
<circle cx="320.9" cy="235.2" r="2.15" fill="#ad1039"/>
<circle cx="320.9" cy="241.9" r="2.15" fill="#ad1039"/>
<circle cx="327.2" cy="247.9" r="2.15" fill="#ad1039"/>
<text x="228.3" y="265.9" font-size="8" text-anchor="middle" fill="#2e2e2e" stroke="#2e2e2e" stroke-width="0.18" font-style="italic" >Fga<tspan font-size="4.6" dy="-3">−/−</tspan></text>
<text x="242.9" y="265.9" font-size="9.0" text-anchor="start" fill="#2e2e2e" stroke="#2e2e2e" stroke-width="0.18" textLength="22.6" lengthAdjust="spacingAndGlyphs" >Saline</text>
<text x="268.2" y="265.9" font-size="9.0" text-anchor="start" fill="#2e2e2e" stroke="#2e2e2e" stroke-width="0.18" textLength="14.3" lengthAdjust="spacingAndGlyphs" >TXA</text>
<text x="289" y="265.9" font-size="9.0" text-anchor="start" fill="#2e2e2e" stroke="#2e2e2e" stroke-width="0.18" textLength="22.6" lengthAdjust="spacingAndGlyphs" >Saline</text>
<text x="314.3" y="265.9" font-size="9.0" text-anchor="start" fill="#2e2e2e" stroke="#2e2e2e" stroke-width="0.18" textLength="14.3" lengthAdjust="spacingAndGlyphs" >TXA</text>
<line x1="242.9" y1="270.5" x2="282.6" y2="270.5" stroke="#333" stroke-width="1" />
<line x1="289" y1="270.5" x2="328.7" y2="270.5" stroke="#333" stroke-width="1" />
<text x="249.6" y="280.7" font-size="9.0" text-anchor="start" fill="#2e2e2e" stroke="#2e2e2e" stroke-width="0.18" textLength="26.8" lengthAdjust="spacingAndGlyphs" >6 hours</text>
<text x="293.6" y="280.7" font-size="9.0" text-anchor="start" fill="#2e2e2e" stroke="#2e2e2e" stroke-width="0.18" textLength="31.2" lengthAdjust="spacingAndGlyphs" >24 hours</text>
<rect x="0.5" y="0.5" width="518.5" height="287.5" fill="none" stroke="#6b6b6b" stroke-width="1"/>
<rect x="518.6" y="0" width="1.4" height="289" fill="#6b6b6b"/>
<rect x="0" y="287.6" width="520" height="1.4" fill="#6b6b6b"/>
</svg>
</body></html>
